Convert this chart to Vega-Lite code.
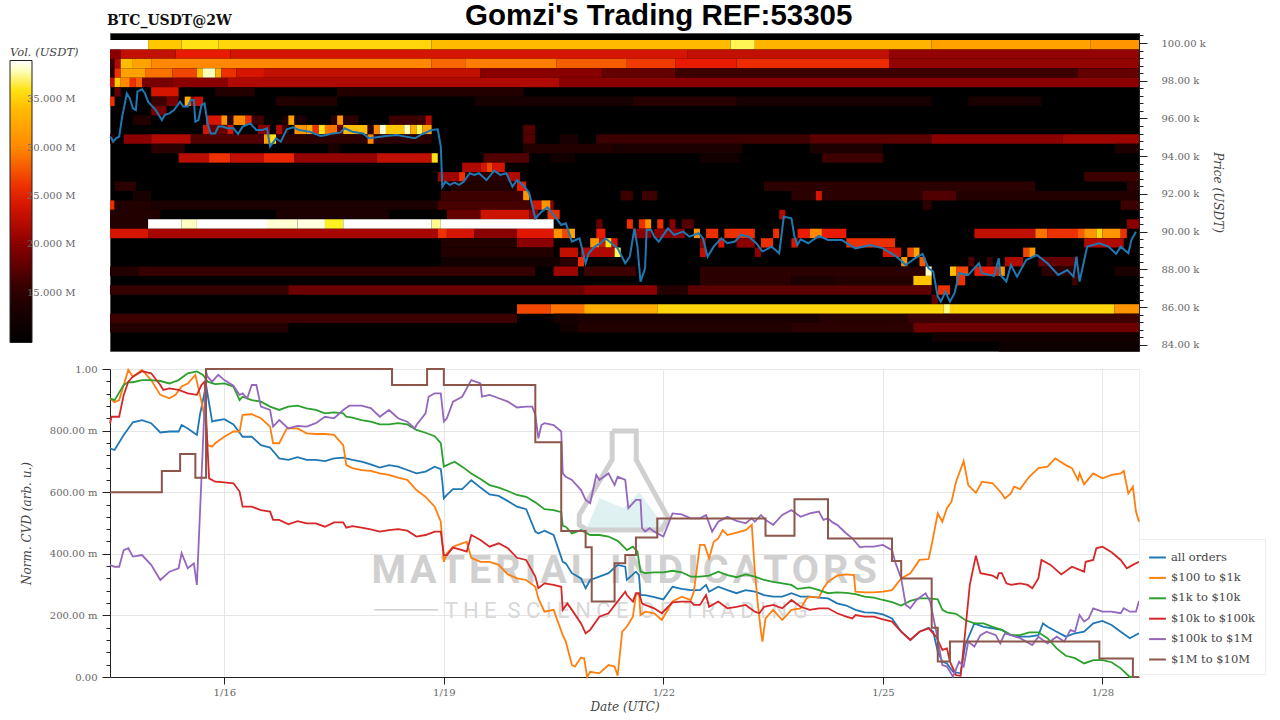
{"$schema":"https://vega.github.io/schema/vega-lite/v6.json","background":"white","padding":{"left":9,"top":1,"right":5,"bottom":5},"title":{"text":"Gomzi's Trading REF:53305","font":"Liberation Sans","fontWeight":"bold","fontSize":29.5,"color":"black","anchor":"middle","dx":21,"offset":-18},"config":{"font":"DejaVu Serif","axis":{"labelFont":"DejaVu Serif","labelColor":"#666","labelFontSize":10,"titleFont":"DejaVu Serif","titleFontStyle":"italic","titleFontWeight":"normal","titleColor":"#444","titleFontSize":12,"tickColor":"#222","domainColor":"#222","labelFlush":false,"labelOverlap":false,"labelBound":false}},"spacing":18,"bounds":"flush","datasets":{"heat":[
{"a":"2026-01-14T10:30Z","b":"2026-01-14T23:00Z","y":99660,"y2":100160,"v":39},{"a":"2026-01-14T23:00Z","b":"2026-01-15T10:00Z","y":99660,"y2":100160,"v":35},{"a":"2026-01-15T10:00Z","b":"2026-01-15T22:00Z","y":99660,"y2":100160,"v":36},{"a":"2026-01-15T22:00Z","b":"2026-01-18T20:00Z","y":99660,"y2":100160,"v":35.5},{"a":"2026-01-18T20:00Z","b":"2026-01-22T22:00Z","y":99660,"y2":100160,"v":34},{"a":"2026-01-22T22:00Z","b":"2026-01-23T06:00Z","y":99660,"y2":100160,"v":37},{"a":"2026-01-23T06:00Z","b":"2026-01-25T16:00Z","y":99660,"y2":100160,"v":33.5},{"a":"2026-01-25T16:00Z","b":"2026-01-27T20:00Z","y":99660,"y2":100160,"v":32},{"a":"2026-01-27T20:00Z","b":"2026-01-28T12:00Z","y":99660,"y2":100160,"v":31},
{"a":"2026-01-14T10:30Z","b":"2026-01-14T14:00Z","y":99160,"y2":99660,"v":20},{"a":"2026-01-14T14:00Z","b":"2026-01-15T08:00Z","y":99160,"y2":99660,"v":23},{"a":"2026-01-15T08:00Z","b":"2026-01-16T02:00Z","y":99160,"y2":99660,"v":25},{"a":"2026-01-16T02:00Z","b":"2026-01-22T08:00Z","y":99160,"y2":99660,"v":24},{"a":"2026-01-22T08:00Z","b":"2026-01-25T02:00Z","y":99160,"y2":99660,"v":23},{"a":"2026-01-25T02:00Z","b":"2026-01-28T12:00Z","y":99160,"y2":99660,"v":20.5},
{"a":"2026-01-14T10:30Z","b":"2026-01-14T12:00Z","y":98660,"y2":99160,"v":16},{"a":"2026-01-14T12:00Z","b":"2026-01-14T14:00Z","y":98660,"y2":99160,"v":22},{"a":"2026-01-14T14:00Z","b":"2026-01-14T18:00Z","y":98660,"y2":99160,"v":34},{"a":"2026-01-14T18:00Z","b":"2026-01-15T00:00Z","y":98660,"y2":99160,"v":32},{"a":"2026-01-15T00:00Z","b":"2026-01-18T20:00Z","y":98660,"y2":99160,"v":30},{"a":"2026-01-18T20:00Z","b":"2026-01-19T07:00Z","y":98660,"y2":99160,"v":28.5},{"a":"2026-01-19T07:00Z","b":"2026-01-20T13:00Z","y":98660,"y2":99160,"v":29.5},{"a":"2026-01-20T13:00Z","b":"2026-01-21T12:00Z","y":98660,"y2":99160,"v":28},{"a":"2026-01-21T12:00Z","b":"2026-01-22T04:00Z","y":98660,"y2":99160,"v":26.5},{"a":"2026-01-22T04:00Z","b":"2026-01-23T00:00Z","y":98660,"y2":99160,"v":25},{"a":"2026-01-23T00:00Z","b":"2026-01-25T02:00Z","y":98660,"y2":99160,"v":25.8},{"a":"2026-01-25T02:00Z","b":"2026-01-28T12:00Z","y":98660,"y2":99160,"v":20.5},
{"a":"2026-01-14T10:30Z","b":"2026-01-14T12:00Z","y":98160,"y2":98660,"v":15},{"a":"2026-01-14T12:00Z","b":"2026-01-14T14:00Z","y":98160,"y2":98660,"v":26},{"a":"2026-01-14T14:00Z","b":"2026-01-14T22:00Z","y":98160,"y2":98660,"v":32},{"a":"2026-01-14T22:00Z","b":"2026-01-15T07:00Z","y":98160,"y2":98660,"v":29},{"a":"2026-01-15T07:00Z","b":"2026-01-15T15:00Z","y":98160,"y2":98660,"v":27},{"a":"2026-01-15T15:00Z","b":"2026-01-15T17:00Z","y":98160,"y2":98660,"v":34},{"a":"2026-01-15T17:00Z","b":"2026-01-15T21:00Z","y":98160,"y2":98660,"v":38},{"a":"2026-01-15T21:00Z","b":"2026-01-15T23:00Z","y":98160,"y2":98660,"v":33},{"a":"2026-01-15T23:00Z","b":"2026-01-16T04:00Z","y":98160,"y2":98660,"v":26},{"a":"2026-01-16T04:00Z","b":"2026-01-16T13:00Z","y":98160,"y2":98660,"v":24},{"a":"2026-01-16T13:00Z","b":"2026-01-19T12:00Z","y":98160,"y2":98660,"v":23},{"a":"2026-01-19T12:00Z","b":"2026-01-21T04:00Z","y":98160,"y2":98660,"v":20},{"a":"2026-01-21T04:00Z","b":"2026-01-22T04:00Z","y":98160,"y2":98660,"v":18},{"a":"2026-01-22T04:00Z","b":"2026-01-27T16:00Z","y":98160,"y2":98660,"v":16},{"a":"2026-01-27T16:00Z","b":"2026-01-28T12:00Z","y":98160,"y2":98660,"v":18},
{"a":"2026-01-14T10:30Z","b":"2026-01-14T12:00Z","y":97660,"y2":98160,"v":23},{"a":"2026-01-14T12:00Z","b":"2026-01-14T14:00Z","y":97660,"y2":98160,"v":35},{"a":"2026-01-14T14:00Z","b":"2026-01-14T17:00Z","y":97660,"y2":98160,"v":30},{"a":"2026-01-14T17:00Z","b":"2026-01-14T19:00Z","y":97660,"y2":98160,"v":26},{"a":"2026-01-14T19:00Z","b":"2026-01-14T21:00Z","y":97660,"y2":98160,"v":28},{"a":"2026-01-14T21:00Z","b":"2026-01-15T07:00Z","y":97660,"y2":98160,"v":19},{"a":"2026-01-15T07:00Z","b":"2026-01-16T01:00Z","y":97660,"y2":98160,"v":20},{"a":"2026-01-16T01:00Z","b":"2026-01-20T14:00Z","y":97660,"y2":98160,"v":22},{"a":"2026-01-20T14:00Z","b":"2026-01-28T12:00Z","y":97660,"y2":98160,"v":20},
{"a":"2026-01-14T12:00Z","b":"2026-01-14T14:00Z","y":97160,"y2":97660,"v":18},{"a":"2026-01-15T00:00Z","b":"2026-01-15T09:00Z","y":97160,"y2":97660,"v":24},{"a":"2026-01-15T21:00Z","b":"2026-01-16T10:00Z","y":97160,"y2":97660,"v":14},{"a":"2026-01-17T13:00Z","b":"2026-01-20T02:00Z","y":97160,"y2":97660,"v":14},
{"a":"2026-01-14T10:30Z","b":"2026-01-14T12:00Z","y":96660,"y2":97160,"v":26},{"a":"2026-01-15T00:00Z","b":"2026-01-15T05:00Z","y":96660,"y2":97160,"v":16},{"a":"2026-01-15T05:00Z","b":"2026-01-15T09:00Z","y":96660,"y2":97160,"v":19},{"a":"2026-01-15T11:00Z","b":"2026-01-15T13:00Z","y":96660,"y2":97160,"v":33},{"a":"2026-01-15T13:00Z","b":"2026-01-15T14:00Z","y":96660,"y2":97160,"v":21},{"a":"2026-01-15T14:00Z","b":"2026-01-15T17:00Z","y":96660,"y2":97160,"v":23},{"a":"2026-01-16T17:00Z","b":"2026-01-17T13:00Z","y":96660,"y2":97160,"v":14},{"a":"2026-01-19T10:00Z","b":"2026-01-21T14:00Z","y":96660,"y2":97160,"v":12.5},{"a":"2026-01-21T14:00Z","b":"2026-01-23T00:00Z","y":96660,"y2":97160,"v":14.5},{"a":"2026-01-23T00:00Z","b":"2026-01-25T16:00Z","y":96660,"y2":97160,"v":12.5},{"a":"2026-01-26T04:00Z","b":"2026-01-27T04:00Z","y":96660,"y2":97160,"v":13},
{"a":"2026-01-15T00:00Z","b":"2026-01-15T05:00Z","y":96160,"y2":96660,"v":19},
{"a":"2026-01-14T18:00Z","b":"2026-01-15T00:00Z","y":95660,"y2":96160,"v":14},{"a":"2026-01-15T18:00Z","b":"2026-01-15T23:00Z","y":95660,"y2":96160,"v":24},{"a":"2026-01-15T23:00Z","b":"2026-01-16T01:00Z","y":95660,"y2":96160,"v":31},{"a":"2026-01-16T01:00Z","b":"2026-01-16T03:00Z","y":95660,"y2":96160,"v":15},{"a":"2026-01-16T03:00Z","b":"2026-01-16T07:00Z","y":95660,"y2":96160,"v":30},{"a":"2026-01-16T07:00Z","b":"2026-01-16T09:00Z","y":95660,"y2":96160,"v":26},{"a":"2026-01-16T09:00Z","b":"2026-01-16T13:00Z","y":95660,"y2":96160,"v":16},{"a":"2026-01-16T19:00Z","b":"2026-01-16T21:00Z","y":95660,"y2":96160,"v":14},{"a":"2026-01-16T21:00Z","b":"2026-01-16T23:00Z","y":95660,"y2":96160,"v":32},{"a":"2026-01-16T23:00Z","b":"2026-01-17T03:00Z","y":95660,"y2":96160,"v":13},{"a":"2026-01-17T11:00Z","b":"2026-01-17T13:00Z","y":95660,"y2":96160,"v":15},{"a":"2026-01-17T13:00Z","b":"2026-01-17T15:00Z","y":95660,"y2":96160,"v":31},{"a":"2026-01-17T15:00Z","b":"2026-01-17T20:00Z","y":95660,"y2":96160,"v":15},{"a":"2026-01-18T06:00Z","b":"2026-01-18T18:00Z","y":95660,"y2":96160,"v":16},{"a":"2026-01-18T18:00Z","b":"2026-01-18T20:00Z","y":95660,"y2":96160,"v":22},
{"a":"2026-01-15T17:00Z","b":"2026-01-15T19:00Z","y":95160,"y2":95660,"v":24},{"a":"2026-01-15T19:00Z","b":"2026-01-16T01:00Z","y":95160,"y2":95660,"v":18},{"a":"2026-01-16T01:00Z","b":"2026-01-16T03:00Z","y":95160,"y2":95660,"v":24},{"a":"2026-01-16T11:00Z","b":"2026-01-16T15:00Z","y":95160,"y2":95660,"v":20},{"a":"2026-01-16T17:00Z","b":"2026-01-16T19:00Z","y":95160,"y2":95660,"v":22},{"a":"2026-01-16T19:00Z","b":"2026-01-16T21:00Z","y":95160,"y2":95660,"v":16},{"a":"2026-01-16T23:00Z","b":"2026-01-17T03:00Z","y":95160,"y2":95660,"v":31},{"a":"2026-01-17T03:00Z","b":"2026-01-17T05:00Z","y":95160,"y2":95660,"v":33},{"a":"2026-01-17T05:00Z","b":"2026-01-17T07:00Z","y":95160,"y2":95660,"v":26},{"a":"2026-01-17T07:00Z","b":"2026-01-17T09:00Z","y":95160,"y2":95660,"v":36},{"a":"2026-01-17T09:00Z","b":"2026-01-17T13:00Z","y":95160,"y2":95660,"v":29},{"a":"2026-01-17T13:00Z","b":"2026-01-17T15:00Z","y":95160,"y2":95660,"v":18},{"a":"2026-01-17T15:00Z","b":"2026-01-17T23:00Z","y":95160,"y2":95660,"v":34},{"a":"2026-01-17T23:00Z","b":"2026-01-18T01:00Z","y":95160,"y2":95660,"v":15},{"a":"2026-01-18T01:00Z","b":"2026-01-18T03:00Z","y":95160,"y2":95660,"v":30},{"a":"2026-01-18T03:00Z","b":"2026-01-18T05:00Z","y":95160,"y2":95660,"v":38.5},{"a":"2026-01-18T05:00Z","b":"2026-01-18T11:00Z","y":95160,"y2":95660,"v":35},{"a":"2026-01-18T11:00Z","b":"2026-01-18T13:00Z","y":95160,"y2":95660,"v":38},{"a":"2026-01-18T13:00Z","b":"2026-01-18T15:00Z","y":95160,"y2":95660,"v":33},{"a":"2026-01-18T15:00Z","b":"2026-01-18T17:00Z","y":95160,"y2":95660,"v":37},{"a":"2026-01-18T17:00Z","b":"2026-01-18T20:00Z","y":95160,"y2":95660,"v":32},{"a":"2026-01-20T02:00Z","b":"2026-01-20T06:00Z","y":95160,"y2":95660,"v":17},
{"a":"2026-01-14T10:30Z","b":"2026-01-14T12:00Z","y":94660,"y2":95160,"v":15},{"a":"2026-01-14T15:00Z","b":"2026-01-15T00:00Z","y":94660,"y2":95160,"v":20},{"a":"2026-01-15T00:00Z","b":"2026-01-15T13:00Z","y":94660,"y2":95160,"v":22},{"a":"2026-01-15T13:00Z","b":"2026-01-16T13:00Z","y":94660,"y2":95160,"v":17},{"a":"2026-01-16T13:00Z","b":"2026-01-16T15:00Z","y":94660,"y2":95160,"v":32},{"a":"2026-01-16T15:00Z","b":"2026-01-16T17:00Z","y":94660,"y2":95160,"v":36},{"a":"2026-01-16T17:00Z","b":"2026-01-17T23:00Z","y":94660,"y2":95160,"v":15},{"a":"2026-01-17T23:00Z","b":"2026-01-18T01:00Z","y":94660,"y2":95160,"v":30},{"a":"2026-01-18T01:00Z","b":"2026-01-18T20:00Z","y":94660,"y2":95160,"v":15},{"a":"2026-01-20T02:00Z","b":"2026-01-20T06:00Z","y":94660,"y2":95160,"v":17},{"a":"2026-01-20T14:00Z","b":"2026-01-20T20:00Z","y":94660,"y2":95160,"v":13},{"a":"2026-01-21T02:00Z","b":"2026-01-24T00:00Z","y":94660,"y2":95160,"v":16},{"a":"2026-01-24T00:00Z","b":"2026-01-25T16:00Z","y":94660,"y2":95160,"v":17.5},{"a":"2026-01-25T16:00Z","b":"2026-01-27T11:00Z","y":94660,"y2":95160,"v":20},{"a":"2026-01-27T11:00Z","b":"2026-01-28T12:00Z","y":94660,"y2":95160,"v":21},
{"a":"2026-01-15T00:00Z","b":"2026-01-15T11:00Z","y":94160,"y2":94660,"v":15},{"a":"2026-01-17T10:00Z","b":"2026-01-17T14:00Z","y":94160,"y2":94660,"v":13},{"a":"2026-01-20T02:00Z","b":"2026-01-21T08:00Z","y":94160,"y2":94660,"v":14},{"a":"2026-01-21T08:00Z","b":"2026-01-23T02:00Z","y":94160,"y2":94660,"v":13},{"a":"2026-01-24T00:00Z","b":"2026-01-25T00:00Z","y":94160,"y2":94660,"v":13},{"a":"2026-01-28T04:00Z","b":"2026-01-28T12:00Z","y":94160,"y2":94660,"v":13},
{"a":"2026-01-15T09:00Z","b":"2026-01-15T19:00Z","y":93660,"y2":94160,"v":22.5},{"a":"2026-01-15T19:00Z","b":"2026-01-16T02:00Z","y":93660,"y2":94160,"v":26},{"a":"2026-01-16T02:00Z","b":"2026-01-16T13:00Z","y":93660,"y2":94160,"v":23},{"a":"2026-01-16T13:00Z","b":"2026-01-16T23:00Z","y":93660,"y2":94160,"v":25.5},{"a":"2026-01-16T23:00Z","b":"2026-01-18T02:00Z","y":93660,"y2":94160,"v":20.5},{"a":"2026-01-18T02:00Z","b":"2026-01-18T20:00Z","y":93660,"y2":94160,"v":23},{"a":"2026-01-18T20:00Z","b":"2026-01-18T22:00Z","y":93660,"y2":94160,"v":36},{"a":"2026-01-19T13:00Z","b":"2026-01-20T04:00Z","y":93660,"y2":94160,"v":17},{"a":"2026-01-20T11:00Z","b":"2026-01-20T19:00Z","y":93660,"y2":94160,"v":12},{"a":"2026-01-22T12:00Z","b":"2026-01-23T01:00Z","y":93660,"y2":94160,"v":12},{"a":"2026-01-24T04:00Z","b":"2026-01-25T00:00Z","y":93660,"y2":94160,"v":16},
{"a":"2026-01-19T06:00Z","b":"2026-01-19T12:00Z","y":93160,"y2":93660,"v":22},{"a":"2026-01-19T12:00Z","b":"2026-01-19T14:00Z","y":93160,"y2":93660,"v":24},{"a":"2026-01-19T14:00Z","b":"2026-01-19T16:00Z","y":93160,"y2":93660,"v":27},{"a":"2026-01-19T16:00Z","b":"2026-01-19T20:00Z","y":93160,"y2":93660,"v":24},
{"a":"2026-01-18T22:00Z","b":"2026-01-19T05:00Z","y":92660,"y2":93160,"v":21},{"a":"2026-01-19T05:00Z","b":"2026-01-19T07:00Z","y":92660,"y2":93160,"v":26},{"a":"2026-01-19T07:00Z","b":"2026-01-19T21:00Z","y":92660,"y2":93160,"v":15},{"a":"2026-01-19T21:00Z","b":"2026-01-20T01:00Z","y":92660,"y2":93160,"v":22},{"a":"2026-01-27T18:00Z","b":"2026-01-28T12:00Z","y":92660,"y2":93160,"v":16},
{"a":"2026-01-14T12:00Z","b":"2026-01-14T19:00Z","y":92160,"y2":92660,"v":15},{"a":"2026-01-19T02:00Z","b":"2026-01-20T00:00Z","y":92160,"y2":92660,"v":14},{"a":"2026-01-20T00:00Z","b":"2026-01-20T03:00Z","y":92160,"y2":92660,"v":25},{"a":"2026-01-23T09:00Z","b":"2026-01-27T02:00Z","y":92160,"y2":92660,"v":15},{"a":"2026-01-28T08:00Z","b":"2026-01-28T12:00Z","y":92160,"y2":92660,"v":15},
{"a":"2026-01-14T18:00Z","b":"2026-01-15T00:00Z","y":91660,"y2":92160,"v":12.5},{"a":"2026-01-18T23:00Z","b":"2026-01-20T02:00Z","y":91660,"y2":92160,"v":16},{"a":"2026-01-20T02:00Z","b":"2026-01-20T04:00Z","y":91660,"y2":92160,"v":31},{"a":"2026-01-21T10:00Z","b":"2026-01-21T14:00Z","y":91660,"y2":92160,"v":16},{"a":"2026-01-21T17:00Z","b":"2026-01-21T22:00Z","y":91660,"y2":92160,"v":16},{"a":"2026-01-23T18:00Z","b":"2026-01-24T02:00Z","y":91660,"y2":92160,"v":15},{"a":"2026-01-24T02:00Z","b":"2026-01-24T04:00Z","y":91660,"y2":92160,"v":24},{"a":"2026-01-24T04:00Z","b":"2026-01-25T13:00Z","y":91660,"y2":92160,"v":15},{"a":"2026-01-25T13:00Z","b":"2026-01-26T00:00Z","y":91660,"y2":92160,"v":17},{"a":"2026-01-26T00:00Z","b":"2026-01-28T12:00Z","y":91660,"y2":92160,"v":14},
{"a":"2026-01-14T10:30Z","b":"2026-01-14T12:00Z","y":91160,"y2":91660,"v":26},{"a":"2026-01-14T12:00Z","b":"2026-01-15T00:00Z","y":91160,"y2":91660,"v":14},{"a":"2026-01-15T00:00Z","b":"2026-01-18T22:00Z","y":91160,"y2":91660,"v":13},{"a":"2026-01-18T22:00Z","b":"2026-01-20T05:00Z","y":91160,"y2":91660,"v":16.5},{"a":"2026-01-20T05:00Z","b":"2026-01-20T08:00Z","y":91160,"y2":91660,"v":24},{"a":"2026-01-20T08:00Z","b":"2026-01-20T11:00Z","y":91160,"y2":91660,"v":31},{"a":"2026-01-20T11:00Z","b":"2026-01-20T12:00Z","y":91160,"y2":91660,"v":20},{"a":"2026-01-25T13:00Z","b":"2026-01-25T16:00Z","y":91160,"y2":91660,"v":15},{"a":"2026-01-28T06:00Z","b":"2026-01-28T12:00Z","y":91160,"y2":91660,"v":16},
{"a":"2026-01-14T10:30Z","b":"2026-01-15T03:00Z","y":90660,"y2":91160,"v":14},{"a":"2026-01-16T17:00Z","b":"2026-01-18T06:00Z","y":90660,"y2":91160,"v":13},{"a":"2026-01-19T01:00Z","b":"2026-01-19T12:00Z","y":90660,"y2":91160,"v":18},{"a":"2026-01-19T12:00Z","b":"2026-01-20T04:00Z","y":90660,"y2":91160,"v":23.5},{"a":"2026-01-20T04:00Z","b":"2026-01-20T07:00Z","y":90660,"y2":91160,"v":20},{"a":"2026-01-20T10:00Z","b":"2026-01-20T14:00Z","y":90660,"y2":91160,"v":26},{"a":"2026-01-23T14:00Z","b":"2026-01-23T16:00Z","y":90660,"y2":91160,"v":22},
{"a":"2026-01-14T10:30Z","b":"2026-01-14T23:00Z","y":90160,"y2":90660,"v":14},{"a":"2026-01-14T23:00Z","b":"2026-01-15T10:00Z","y":90160,"y2":90660,"v":39},{"a":"2026-01-15T10:00Z","b":"2026-01-15T15:00Z","y":90160,"y2":90660,"v":38},{"a":"2026-01-15T15:00Z","b":"2026-01-16T14:00Z","y":90160,"y2":90660,"v":39},{"a":"2026-01-16T14:00Z","b":"2026-01-17T00:00Z","y":90160,"y2":90660,"v":38.3},{"a":"2026-01-17T00:00Z","b":"2026-01-17T09:00Z","y":90160,"y2":90660,"v":38.5},{"a":"2026-01-17T09:00Z","b":"2026-01-17T15:00Z","y":90160,"y2":90660,"v":36.5},{"a":"2026-01-17T15:00Z","b":"2026-01-18T20:00Z","y":90160,"y2":90660,"v":39},{"a":"2026-01-18T20:00Z","b":"2026-01-18T23:00Z","y":90160,"y2":90660,"v":37.5},{"a":"2026-01-18T23:00Z","b":"2026-01-20T12:00Z","y":90160,"y2":90660,"v":39},{"a":"2026-01-21T02:00Z","b":"2026-01-21T04:00Z","y":90160,"y2":90660,"v":18},{"a":"2026-01-21T12:00Z","b":"2026-01-21T14:00Z","y":90160,"y2":90660,"v":26},{"a":"2026-01-21T16:00Z","b":"2026-01-21T18:00Z","y":90160,"y2":90660,"v":26},{"a":"2026-01-21T18:00Z","b":"2026-01-21T20:00Z","y":90160,"y2":90660,"v":30.5},{"a":"2026-01-21T22:00Z","b":"2026-01-22T00:00Z","y":90160,"y2":90660,"v":26},{"a":"2026-01-22T02:00Z","b":"2026-01-22T04:00Z","y":90160,"y2":90660,"v":20},{"a":"2026-01-22T06:00Z","b":"2026-01-22T10:00Z","y":90160,"y2":90660,"v":17},{"a":"2026-01-28T08:00Z","b":"2026-01-28T12:00Z","y":90160,"y2":90660,"v":20},
{"a":"2026-01-14T10:30Z","b":"2026-01-14T23:00Z","y":89660,"y2":90160,"v":24},{"a":"2026-01-14T23:00Z","b":"2026-01-18T22:00Z","y":89660,"y2":90160,"v":21.5},{"a":"2026-01-18T22:00Z","b":"2026-01-19T01:00Z","y":89660,"y2":90160,"v":26},{"a":"2026-01-19T01:00Z","b":"2026-01-19T10:00Z","y":89660,"y2":90160,"v":24},{"a":"2026-01-19T10:00Z","b":"2026-01-20T00:00Z","y":89660,"y2":90160,"v":20},{"a":"2026-01-20T00:00Z","b":"2026-01-20T12:00Z","y":89660,"y2":90160,"v":24.5},{"a":"2026-01-20T12:00Z","b":"2026-01-20T15:00Z","y":89660,"y2":90160,"v":30.5},{"a":"2026-01-20T15:00Z","b":"2026-01-20T17:00Z","y":89660,"y2":90160,"v":27},{"a":"2026-01-20T17:00Z","b":"2026-01-20T19:00Z","y":89660,"y2":90160,"v":32},{"a":"2026-01-21T02:00Z","b":"2026-01-21T05:00Z","y":89660,"y2":90160,"v":25},{"a":"2026-01-21T14:00Z","b":"2026-01-21T20:00Z","y":89660,"y2":90160,"v":20},{"a":"2026-01-21T21:00Z","b":"2026-01-22T07:00Z","y":89660,"y2":90160,"v":20},{"a":"2026-01-22T10:00Z","b":"2026-01-22T12:00Z","y":89660,"y2":90160,"v":31},{"a":"2026-01-22T14:00Z","b":"2026-01-22T18:00Z","y":89660,"y2":90160,"v":26},{"a":"2026-01-22T20:00Z","b":"2026-01-23T06:00Z","y":89660,"y2":90160,"v":26},{"a":"2026-01-23T12:00Z","b":"2026-01-23T14:00Z","y":89660,"y2":90160,"v":26},{"a":"2026-01-23T20:00Z","b":"2026-01-24T00:00Z","y":89660,"y2":90160,"v":25},{"a":"2026-01-24T00:00Z","b":"2026-01-24T04:00Z","y":89660,"y2":90160,"v":30},{"a":"2026-01-24T04:00Z","b":"2026-01-24T12:00Z","y":89660,"y2":90160,"v":25},{"a":"2026-01-26T06:00Z","b":"2026-01-27T02:00Z","y":89660,"y2":90160,"v":23},{"a":"2026-01-27T02:00Z","b":"2026-01-27T06:00Z","y":89660,"y2":90160,"v":29},{"a":"2026-01-27T06:00Z","b":"2026-01-27T16:00Z","y":89660,"y2":90160,"v":26},{"a":"2026-01-27T16:00Z","b":"2026-01-27T18:00Z","y":89660,"y2":90160,"v":28},{"a":"2026-01-27T18:00Z","b":"2026-01-27T22:00Z","y":89660,"y2":90160,"v":31},{"a":"2026-01-27T22:00Z","b":"2026-01-28T00:00Z","y":89660,"y2":90160,"v":35.5},{"a":"2026-01-28T00:00Z","b":"2026-01-28T06:00Z","y":89660,"y2":90160,"v":31},{"a":"2026-01-28T06:00Z","b":"2026-01-28T08:00Z","y":89660,"y2":90160,"v":26},
{"a":"2026-01-18T23:00Z","b":"2026-01-20T00:00Z","y":89160,"y2":89660,"v":14},{"a":"2026-01-20T00:00Z","b":"2026-01-20T12:00Z","y":89160,"y2":89660,"v":20},{"a":"2026-01-21T00:00Z","b":"2026-01-21T03:00Z","y":89160,"y2":89660,"v":31},{"a":"2026-01-21T03:00Z","b":"2026-01-21T05:00Z","y":89160,"y2":89660,"v":24},{"a":"2026-01-21T05:00Z","b":"2026-01-21T07:00Z","y":89160,"y2":89660,"v":36},{"a":"2026-01-21T07:00Z","b":"2026-01-21T09:00Z","y":89160,"y2":89660,"v":24},{"a":"2026-01-22T12:00Z","b":"2026-01-22T14:00Z","y":89160,"y2":89660,"v":20},{"a":"2026-01-22T18:00Z","b":"2026-01-22T20:00Z","y":89160,"y2":89660,"v":24},{"a":"2026-01-23T00:00Z","b":"2026-01-23T06:00Z","y":89160,"y2":89660,"v":20},{"a":"2026-01-23T08:00Z","b":"2026-01-23T12:00Z","y":89160,"y2":89660,"v":26},{"a":"2026-01-23T18:00Z","b":"2026-01-23T20:00Z","y":89160,"y2":89660,"v":24},{"a":"2026-01-24T12:00Z","b":"2026-01-25T04:00Z","y":89160,"y2":89660,"v":26},{"a":"2026-01-27T18:00Z","b":"2026-01-28T07:00Z","y":89160,"y2":89660,"v":22},
{"a":"2026-01-18T23:00Z","b":"2026-01-20T12:00Z","y":88660,"y2":89160,"v":14},{"a":"2026-01-20T14:00Z","b":"2026-01-20T20:00Z","y":88660,"y2":89160,"v":23},{"a":"2026-01-20T21:00Z","b":"2026-01-21T08:00Z","y":88660,"y2":89160,"v":22},{"a":"2026-01-21T08:00Z","b":"2026-01-21T10:00Z","y":88660,"y2":89160,"v":37},{"a":"2026-01-22T12:00Z","b":"2026-01-22T14:00Z","y":88660,"y2":89160,"v":23},{"a":"2026-01-23T06:00Z","b":"2026-01-23T08:00Z","y":88660,"y2":89160,"v":20},{"a":"2026-01-25T00:00Z","b":"2026-01-25T06:00Z","y":88660,"y2":89160,"v":24},{"a":"2026-01-25T08:00Z","b":"2026-01-25T10:00Z","y":88660,"y2":89160,"v":27},{"a":"2026-01-25T10:00Z","b":"2026-01-25T12:00Z","y":88660,"y2":89160,"v":32},{"a":"2026-01-26T22:00Z","b":"2026-01-27T00:00Z","y":88660,"y2":89160,"v":27},{"a":"2026-01-27T00:00Z","b":"2026-01-27T02:00Z","y":88660,"y2":89160,"v":31},
{"a":"2026-01-18T23:00Z","b":"2026-01-20T14:00Z","y":88160,"y2":88660,"v":12},{"a":"2026-01-20T14:00Z","b":"2026-01-20T20:00Z","y":88160,"y2":88660,"v":15},{"a":"2026-01-20T20:00Z","b":"2026-01-20T22:00Z","y":88160,"y2":88660,"v":26},{"a":"2026-01-25T06:00Z","b":"2026-01-25T08:00Z","y":88160,"y2":88660,"v":31},{"a":"2026-01-25T12:00Z","b":"2026-01-25T14:00Z","y":88160,"y2":88660,"v":28},{"a":"2026-01-26T04:00Z","b":"2026-01-26T06:00Z","y":88160,"y2":88660,"v":17},{"a":"2026-01-26T10:00Z","b":"2026-01-26T12:00Z","y":88160,"y2":88660,"v":16},{"a":"2026-01-26T16:00Z","b":"2026-01-26T22:00Z","y":88160,"y2":88660,"v":22},{"a":"2026-01-27T03:00Z","b":"2026-01-27T16:00Z","y":88160,"y2":88660,"v":18},
{"a":"2026-01-14T10:30Z","b":"2026-01-14T20:00Z","y":87660,"y2":88160,"v":14},{"a":"2026-01-14T20:00Z","b":"2026-01-20T06:00Z","y":87660,"y2":88160,"v":15.5},{"a":"2026-01-20T12:00Z","b":"2026-01-20T20:00Z","y":87660,"y2":88160,"v":21},{"a":"2026-01-20T22:00Z","b":"2026-01-21T15:00Z","y":87660,"y2":88160,"v":16},{"a":"2026-01-22T12:00Z","b":"2026-01-25T14:00Z","y":87660,"y2":88160,"v":15},{"a":"2026-01-25T14:00Z","b":"2026-01-25T16:00Z","y":87660,"y2":88160,"v":38},{"a":"2026-01-25T22:00Z","b":"2026-01-26T00:00Z","y":87660,"y2":88160,"v":34},{"a":"2026-01-26T00:00Z","b":"2026-01-26T04:00Z","y":87660,"y2":88160,"v":27},{"a":"2026-01-26T06:00Z","b":"2026-01-26T14:00Z","y":87660,"y2":88160,"v":25},{"a":"2026-01-26T14:00Z","b":"2026-01-26T16:00Z","y":87660,"y2":88160,"v":31},{"a":"2026-01-27T04:00Z","b":"2026-01-27T16:00Z","y":87660,"y2":88160,"v":15},{"a":"2026-01-28T04:00Z","b":"2026-01-28T12:00Z","y":87660,"y2":88160,"v":13},
{"a":"2026-01-22T12:00Z","b":"2026-01-23T18:00Z","y":87160,"y2":87660,"v":15},{"a":"2026-01-23T18:00Z","b":"2026-01-24T08:00Z","y":87160,"y2":87660,"v":13},{"a":"2026-01-24T08:00Z","b":"2026-01-25T10:00Z","y":87160,"y2":87660,"v":14},{"a":"2026-01-25T10:00Z","b":"2026-01-25T16:00Z","y":87160,"y2":87660,"v":34.5},{"a":"2026-01-26T00:00Z","b":"2026-01-26T03:00Z","y":87160,"y2":87660,"v":26},{"a":"2026-01-27T14:00Z","b":"2026-01-27T16:00Z","y":87160,"y2":87660,"v":16},
{"a":"2026-01-14T10:30Z","b":"2026-01-16T21:00Z","y":86660,"y2":87160,"v":15.5},{"a":"2026-01-16T21:00Z","b":"2026-01-20T22:00Z","y":86660,"y2":87160,"v":18.5},{"a":"2026-01-20T22:00Z","b":"2026-01-21T22:00Z","y":86660,"y2":87160,"v":20},{"a":"2026-01-21T22:00Z","b":"2026-01-22T08:00Z","y":86660,"y2":87160,"v":14},{"a":"2026-01-22T08:00Z","b":"2026-01-25T16:00Z","y":86660,"y2":87160,"v":17.5},{"a":"2026-01-25T18:00Z","b":"2026-01-25T22:00Z","y":86660,"y2":87160,"v":26},
{"a":"2026-01-25T16:00Z","b":"2026-01-25T18:00Z","y":86160,"y2":86660,"v":18},
{"a":"2026-01-20T00:00Z","b":"2026-01-20T11:00Z","y":85660,"y2":86160,"v":27},{"a":"2026-01-20T11:00Z","b":"2026-01-20T22:00Z","y":85660,"y2":86160,"v":29},{"a":"2026-01-20T22:00Z","b":"2026-01-21T22:00Z","y":85660,"y2":86160,"v":33},{"a":"2026-01-21T22:00Z","b":"2026-01-25T20:00Z","y":85660,"y2":86160,"v":35.5},{"a":"2026-01-25T20:00Z","b":"2026-01-25T22:00Z","y":85660,"y2":86160,"v":37.5},{"a":"2026-01-25T22:00Z","b":"2026-01-28T04:00Z","y":85660,"y2":86160,"v":35.5},{"a":"2026-01-28T04:00Z","b":"2026-01-28T12:00Z","y":85660,"y2":86160,"v":31},
{"a":"2026-01-14T10:30Z","b":"2026-01-20T00:00Z","y":85160,"y2":85660,"v":16},{"a":"2026-01-20T12:00Z","b":"2026-01-20T20:00Z","y":85160,"y2":85660,"v":12.5},{"a":"2026-01-20T20:00Z","b":"2026-01-24T03:00Z","y":85160,"y2":85660,"v":13},{"a":"2026-01-24T03:00Z","b":"2026-01-25T08:00Z","y":85160,"y2":85660,"v":14.5},{"a":"2026-01-25T08:00Z","b":"2026-01-28T12:00Z","y":85160,"y2":85660,"v":16},
{"a":"2026-01-14T10:30Z","b":"2026-01-16T21:00Z","y":84660,"y2":85160,"v":14},{"a":"2026-01-20T14:00Z","b":"2026-01-20T20:00Z","y":84660,"y2":85160,"v":12},{"a":"2026-01-20T20:00Z","b":"2026-01-23T18:00Z","y":84660,"y2":85160,"v":14},{"a":"2026-01-23T18:00Z","b":"2026-01-25T10:00Z","y":84660,"y2":85160,"v":15},{"a":"2026-01-25T10:00Z","b":"2026-01-28T12:00Z","y":84660,"y2":85160,"v":18.5},
{"a":"2026-01-25T16:00Z","b":"2026-01-28T12:00Z","y":84160,"y2":84660,"v":12},
{"a":"2026-01-26T14:00Z","b":"2026-01-28T12:00Z","y":83660,"y2":84160,"v":11.5}
],"price":[
{"t":"2026-01-14T10:30Z","p":95040},{"t":"2026-01-14T11:00Z","p":94950},{"t":"2026-01-14T11:30Z","p":94770},{"t":"2026-01-14T12:30Z","p":94950},{"t":"2026-01-14T13:30Z","p":95040},{"t":"2026-01-14T14:30Z","p":96100},{"t":"2026-01-14T15:30Z","p":96890},{"t":"2026-01-14T16:00Z","p":97330},{"t":"2026-01-14T17:00Z","p":97070},{"t":"2026-01-14T18:00Z","p":96540},{"t":"2026-01-14T19:00Z","p":96450},{"t":"2026-01-14T19:30Z","p":97420},{"t":"2026-01-14T21:00Z","p":97550},{"t":"2026-01-14T22:00Z","p":97330},{"t":"2026-01-14T23:00Z","p":96890},{"t":"2026-01-15T00:00Z","p":96710},{"t":"2026-01-15T01:30Z","p":96450},{"t":"2026-01-15T03:30Z","p":95920},{"t":"2026-01-15T04:30Z","p":96190},{"t":"2026-01-15T06:00Z","p":96270},{"t":"2026-01-15T07:30Z","p":96450},{"t":"2026-01-15T09:30Z","p":96890},{"t":"2026-01-15T10:30Z","p":96630},{"t":"2026-01-15T12:00Z","p":96630},{"t":"2026-01-15T13:00Z","p":96980},{"t":"2026-01-15T14:00Z","p":96980},{"t":"2026-01-15T14:30Z","p":95830},{"t":"2026-01-15T15:30Z","p":95920},{"t":"2026-01-15T16:30Z","p":96710},{"t":"2026-01-15T17:30Z","p":96800},{"t":"2026-01-15T18:30Z","p":95740},{"t":"2026-01-15T19:30Z","p":95210},{"t":"2026-01-15T21:00Z","p":95210},{"t":"2026-01-15T22:00Z","p":95570},{"t":"2026-01-15T23:30Z","p":95570},{"t":"2026-01-16T01:00Z","p":95480},{"t":"2026-01-16T03:00Z","p":95480},{"t":"2026-01-16T04:30Z","p":95180},{"t":"2026-01-16T06:00Z","p":95570},{"t":"2026-01-16T08:30Z","p":95740},{"t":"2026-01-16T10:30Z","p":95390},{"t":"2026-01-16T12:30Z","p":95390},{"t":"2026-01-16T14:00Z","p":95480},{"t":"2026-01-16T15:00Z","p":94510},{"t":"2026-01-16T17:00Z","p":94950},{"t":"2026-01-16T18:30Z","p":94770},{"t":"2026-01-16T20:30Z","p":95430},{"t":"2026-01-16T22:30Z","p":95530},{"t":"2026-01-17T00:30Z","p":95390},{"t":"2026-01-17T04:00Z","p":95300},{"t":"2026-01-17T07:30Z","p":95070},{"t":"2026-01-17T09:30Z","p":95130},{"t":"2026-01-17T11:30Z","p":95210},{"t":"2026-01-17T14:00Z","p":95250},{"t":"2026-01-17T15:30Z","p":95480},{"t":"2026-01-17T18:00Z","p":95300},{"t":"2026-01-17T21:30Z","p":95210},{"t":"2026-01-17T23:30Z","p":94950},{"t":"2026-01-18T02:00Z","p":95000},{"t":"2026-01-18T05:00Z","p":95070},{"t":"2026-01-18T08:30Z","p":95130},{"t":"2026-01-18T11:30Z","p":95040},{"t":"2026-01-18T14:30Z","p":94950},{"t":"2026-01-18T17:00Z","p":95180},{"t":"2026-01-18T20:00Z","p":95390},{"t":"2026-01-18T22:00Z","p":95430},{"t":"2026-01-18T23:00Z","p":94510},{"t":"2026-01-18T23:30Z","p":92390},{"t":"2026-01-19T00:30Z","p":92650},{"t":"2026-01-19T02:00Z","p":92480},{"t":"2026-01-19T03:30Z","p":92600},{"t":"2026-01-19T05:00Z","p":92480},{"t":"2026-01-19T06:30Z","p":92650},{"t":"2026-01-19T08:30Z","p":93100},{"t":"2026-01-19T10:00Z","p":93010},{"t":"2026-01-19T11:30Z","p":93100},{"t":"2026-01-19T14:00Z","p":92740},{"t":"2026-01-19T16:30Z","p":93240},{"t":"2026-01-19T18:30Z","p":93010},{"t":"2026-01-19T20:30Z","p":93100},{"t":"2026-01-19T22:30Z","p":92390},{"t":"2026-01-20T00:00Z","p":92740},{"t":"2026-01-20T02:30Z","p":92390},{"t":"2026-01-20T04:00Z","p":92040},{"t":"2026-01-20T06:00Z","p":90710},{"t":"2026-01-20T08:00Z","p":91060},{"t":"2026-01-20T10:00Z","p":91290},{"t":"2026-01-20T12:00Z","p":90890},{"t":"2026-01-20T14:30Z","p":90360},{"t":"2026-01-20T16:00Z","p":90450},{"t":"2026-01-20T18:00Z","p":89480},{"t":"2026-01-20T20:30Z","p":89650},{"t":"2026-01-20T22:30Z","p":88330},{"t":"2026-01-20T23:30Z","p":88860},{"t":"2026-01-21T01:30Z","p":89210},{"t":"2026-01-21T03:30Z","p":89390},{"t":"2026-01-21T05:00Z","p":89650},{"t":"2026-01-21T07:00Z","p":89390},{"t":"2026-01-21T09:00Z","p":89120},{"t":"2026-01-21T11:30Z","p":88330},{"t":"2026-01-21T13:00Z","p":88680},{"t":"2026-01-21T14:30Z","p":90180},{"t":"2026-01-21T15:30Z","p":89210},{"t":"2026-01-21T16:30Z","p":87360},{"t":"2026-01-21T18:00Z","p":88060},{"t":"2026-01-21T18:30Z","p":90090},{"t":"2026-01-21T20:00Z","p":90090},{"t":"2026-01-21T21:00Z","p":89740},{"t":"2026-01-21T22:30Z","p":89480},{"t":"2026-01-22T01:30Z","p":90180},{"t":"2026-01-22T03:30Z","p":89830},{"t":"2026-01-22T06:30Z","p":90010},{"t":"2026-01-22T08:30Z","p":89740},{"t":"2026-01-22T11:30Z","p":89920},{"t":"2026-01-22T13:00Z","p":89650},{"t":"2026-01-22T14:30Z","p":88680},{"t":"2026-01-22T16:30Z","p":89210},{"t":"2026-01-22T19:00Z","p":89650},{"t":"2026-01-22T21:00Z","p":89390},{"t":"2026-01-22T23:30Z","p":89480},{"t":"2026-01-23T01:30Z","p":89830},{"t":"2026-01-23T04:00Z","p":89740},{"t":"2026-01-23T06:30Z","p":89390},{"t":"2026-01-23T08:30Z","p":88950},{"t":"2026-01-23T11:30Z","p":89210},{"t":"2026-01-23T14:00Z","p":88860},{"t":"2026-01-23T15:30Z","p":90800},{"t":"2026-01-23T18:00Z","p":90710},{"t":"2026-01-23T19:00Z","p":89740},{"t":"2026-01-23T20:00Z","p":89300},{"t":"2026-01-23T21:00Z","p":89600},{"t":"2026-01-23T23:30Z","p":89390},{"t":"2026-01-24T03:00Z","p":89780},{"t":"2026-01-24T06:00Z","p":89560},{"t":"2026-01-24T10:30Z","p":89560},{"t":"2026-01-24T15:00Z","p":89120},{"t":"2026-01-24T20:00Z","p":89300},{"t":"2026-01-25T00:00Z","p":89120},{"t":"2026-01-25T04:30Z","p":88680},{"t":"2026-01-25T07:30Z","p":88240},{"t":"2026-01-25T10:30Z","p":88590},{"t":"2026-01-25T13:00Z","p":88820},{"t":"2026-01-25T15:00Z","p":88060},{"t":"2026-01-25T16:30Z","p":87890},{"t":"2026-01-25T18:00Z","p":86560},{"t":"2026-01-25T19:00Z","p":86300},{"t":"2026-01-25T20:30Z","p":86830},{"t":"2026-01-25T22:00Z","p":86300},{"t":"2026-01-25T23:30Z","p":86740},{"t":"2026-01-26T01:00Z","p":87800},{"t":"2026-01-26T04:00Z","p":87710},{"t":"2026-01-26T07:30Z","p":88330},{"t":"2026-01-26T08:30Z","p":87800},{"t":"2026-01-26T12:30Z","p":87660},{"t":"2026-01-26T14:00Z","p":88590},{"t":"2026-01-26T14:30Z","p":87710},{"t":"2026-01-26T16:30Z","p":87360},{"t":"2026-01-26T18:00Z","p":88240},{"t":"2026-01-26T20:00Z","p":87620},{"t":"2026-01-26T23:00Z","p":88500},{"t":"2026-01-27T02:30Z","p":88770},{"t":"2026-01-27T06:00Z","p":88330},{"t":"2026-01-27T09:30Z","p":87710},{"t":"2026-01-27T12:30Z","p":87970},{"t":"2026-01-27T14:30Z","p":87620},{"t":"2026-01-27T15:30Z","p":88680},{"t":"2026-01-27T16:30Z","p":87360},{"t":"2026-01-27T19:00Z","p":89210},{"t":"2026-01-27T23:00Z","p":89390},{"t":"2026-01-28T02:00Z","p":89210},{"t":"2026-01-28T04:30Z","p":88820},{"t":"2026-01-28T06:00Z","p":89210},{"t":"2026-01-28T08:30Z","p":88860},{"t":"2026-01-28T09:30Z","p":89560},{"t":"2026-01-28T11:00Z","p":90000}
],"all":[
{"t":"2026-01-14T10:30Z","v":0.742},{"t":"2026-01-14T12:00Z","v":0.737},{"t":"2026-01-14T15:00Z","v":0.786},{"t":"2026-01-14T18:00Z","v":0.827},{"t":"2026-01-14T21:00Z","v":0.834},{"t":"2026-01-15T00:00Z","v":0.824},{"t":"2026-01-15T03:00Z","v":0.794},{"t":"2026-01-15T06:00Z","v":0.797},{"t":"2026-01-15T09:00Z","v":0.797},{"t":"2026-01-15T10:00Z","v":0.818},{"t":"2026-01-15T12:00Z","v":0.807},{"t":"2026-01-15T15:00Z","v":0.786},{"t":"2026-01-15T16:00Z","v":0.851},{"t":"2026-01-15T18:00Z","v":0.948},{"t":"2026-01-15T20:00Z","v":0.829},{"t":"2026-01-15T21:00Z","v":0.832},{"t":"2026-01-16T00:00Z","v":0.837},{"t":"2026-01-16T03:00Z","v":0.82},{"t":"2026-01-16T06:00Z","v":0.78},{"t":"2026-01-16T09:00Z","v":0.78},{"t":"2026-01-16T12:00Z","v":0.753},{"t":"2026-01-16T15:00Z","v":0.745},{"t":"2026-01-16T18:00Z","v":0.71},{"t":"2026-01-16T21:00Z","v":0.705},{"t":"2026-01-17T00:00Z","v":0.714},{"t":"2026-01-17T03:00Z","v":0.705},{"t":"2026-01-17T06:00Z","v":0.705},{"t":"2026-01-17T09:00Z","v":0.701},{"t":"2026-01-17T12:00Z","v":0.71},{"t":"2026-01-17T15:00Z","v":0.712},{"t":"2026-01-17T18:00Z","v":0.705},{"t":"2026-01-17T21:00Z","v":0.699},{"t":"2026-01-18T00:00Z","v":0.69},{"t":"2026-01-18T03:00Z","v":0.68},{"t":"2026-01-18T06:00Z","v":0.688},{"t":"2026-01-18T09:00Z","v":0.683},{"t":"2026-01-18T12:00Z","v":0.672},{"t":"2026-01-18T15:00Z","v":0.661},{"t":"2026-01-18T18:00Z","v":0.667},{"t":"2026-01-18T21:00Z","v":0.683},{"t":"2026-01-18T23:00Z","v":0.675},{"t":"2026-01-18T23:30Z","v":0.634},{"t":"2026-01-19T00:00Z","v":0.58},{"t":"2026-01-19T01:00Z","v":0.591},{"t":"2026-01-19T03:00Z","v":0.61},{"t":"2026-01-19T06:00Z","v":0.61},{"t":"2026-01-19T09:00Z","v":0.639},{"t":"2026-01-19T12:00Z","v":0.615},{"t":"2026-01-19T15:00Z","v":0.593},{"t":"2026-01-19T18:00Z","v":0.588},{"t":"2026-01-19T21:00Z","v":0.571},{"t":"2026-01-20T00:00Z","v":0.553},{"t":"2026-01-20T03:00Z","v":0.545},{"t":"2026-01-20T06:00Z","v":0.472},{"t":"2026-01-20T07:00Z","v":0.466},{"t":"2026-01-20T09:00Z","v":0.475},{"t":"2026-01-20T12:00Z","v":0.461},{"t":"2026-01-20T15:00Z","v":0.374},{"t":"2026-01-20T16:00Z","v":0.369},{"t":"2026-01-20T18:00Z","v":0.337},{"t":"2026-01-20T21:00Z","v":0.32},{"t":"2026-01-20T22:30Z","v":0.288},{"t":"2026-01-21T00:00Z","v":0.315},{"t":"2026-01-21T03:00Z","v":0.326},{"t":"2026-01-21T06:00Z","v":0.337},{"t":"2026-01-21T09:00Z","v":0.364},{"t":"2026-01-21T11:30Z","v":0.358},{"t":"2026-01-21T12:00Z","v":0.315},{"t":"2026-01-21T15:00Z","v":0.342},{"t":"2026-01-21T16:00Z","v":0.331},{"t":"2026-01-21T16:30Z","v":0.266},{"t":"2026-01-21T18:00Z","v":0.266},{"t":"2026-01-21T21:00Z","v":0.259},{"t":"2026-01-22T00:00Z","v":0.252},{"t":"2026-01-22T03:00Z","v":0.293},{"t":"2026-01-22T06:00Z","v":0.286},{"t":"2026-01-22T09:00Z","v":0.282},{"t":"2026-01-22T12:00Z","v":0.282},{"t":"2026-01-22T14:00Z","v":0.299},{"t":"2026-01-22T15:00Z","v":0.277},{"t":"2026-01-22T18:00Z","v":0.293},{"t":"2026-01-22T21:00Z","v":0.282},{"t":"2026-01-23T00:00Z","v":0.272},{"t":"2026-01-23T03:00Z","v":0.282},{"t":"2026-01-23T06:00Z","v":0.277},{"t":"2026-01-23T09:00Z","v":0.266},{"t":"2026-01-23T12:00Z","v":0.261},{"t":"2026-01-23T15:00Z","v":0.261},{"t":"2026-01-23T18:00Z","v":0.272},{"t":"2026-01-23T21:00Z","v":0.261},{"t":"2026-01-24T00:00Z","v":0.261},{"t":"2026-01-24T03:00Z","v":0.258},{"t":"2026-01-24T06:00Z","v":0.255},{"t":"2026-01-24T09:00Z","v":0.239},{"t":"2026-01-24T12:00Z","v":0.232},{"t":"2026-01-24T15:00Z","v":0.218},{"t":"2026-01-24T18:00Z","v":0.21},{"t":"2026-01-24T21:00Z","v":0.209},{"t":"2026-01-25T00:00Z","v":0.203},{"t":"2026-01-25T03:00Z","v":0.19},{"t":"2026-01-25T06:00Z","v":0.147},{"t":"2026-01-25T09:00Z","v":0.12},{"t":"2026-01-25T12:00Z","v":0.147},{"t":"2026-01-25T15:00Z","v":0.16},{"t":"2026-01-25T16:30Z","v":0.147},{"t":"2026-01-25T18:00Z","v":0.082},{"t":"2026-01-25T19:30Z","v":0.05},{"t":"2026-01-25T21:00Z","v":0.044},{"t":"2026-01-25T23:00Z","v":0.017},{"t":"2026-01-26T01:30Z","v":0.012},{"t":"2026-01-26T03:00Z","v":0.104},{"t":"2026-01-26T06:00Z","v":0.174},{"t":"2026-01-26T09:00Z","v":0.163},{"t":"2026-01-26T12:00Z","v":0.158},{"t":"2026-01-26T15:00Z","v":0.153},{"t":"2026-01-26T18:00Z","v":0.136},{"t":"2026-01-26T21:00Z","v":0.131},{"t":"2026-01-27T00:00Z","v":0.131},{"t":"2026-01-27T03:00Z","v":0.136},{"t":"2026-01-27T04:30Z","v":0.174},{"t":"2026-01-27T06:00Z","v":0.163},{"t":"2026-01-27T09:00Z","v":0.147},{"t":"2026-01-27T12:00Z","v":0.131},{"t":"2026-01-27T15:00Z","v":0.142},{"t":"2026-01-27T18:00Z","v":0.147},{"t":"2026-01-27T21:00Z","v":0.174},{"t":"2026-01-28T00:00Z","v":0.182},{"t":"2026-01-28T03:00Z","v":0.169},{"t":"2026-01-28T06:00Z","v":0.147},{"t":"2026-01-28T09:00Z","v":0.126},{"t":"2026-01-28T12:00Z","v":0.142}
],"s100":[
{"t":"2026-01-14T10:30Z","v":0.905},{"t":"2026-01-14T12:00Z","v":0.892},{"t":"2026-01-14T13:30Z","v":0.899},{"t":"2026-01-14T15:00Z","v":0.948},{"t":"2026-01-14T16:30Z","v":0.997},{"t":"2026-01-14T18:00Z","v":0.975},{"t":"2026-01-14T21:00Z","v":0.997},{"t":"2026-01-15T00:00Z","v":0.964},{"t":"2026-01-15T03:00Z","v":0.916},{"t":"2026-01-15T06:00Z","v":0.905},{"t":"2026-01-15T08:00Z","v":0.916},{"t":"2026-01-15T10:00Z","v":0.943},{"t":"2026-01-15T12:00Z","v":0.953},{"t":"2026-01-15T14:30Z","v":0.981},{"t":"2026-01-15T16:30Z","v":0.894},{"t":"2026-01-15T18:00Z","v":0.818},{"t":"2026-01-15T18:30Z","v":0.753},{"t":"2026-01-15T20:00Z","v":0.748},{"t":"2026-01-15T21:00Z","v":0.759},{"t":"2026-01-16T00:00Z","v":0.78},{"t":"2026-01-16T03:00Z","v":0.797},{"t":"2026-01-16T05:00Z","v":0.797},{"t":"2026-01-16T06:00Z","v":0.851},{"t":"2026-01-16T09:00Z","v":0.853},{"t":"2026-01-16T12:00Z","v":0.84},{"t":"2026-01-16T15:00Z","v":0.813},{"t":"2026-01-16T16:00Z","v":0.759},{"t":"2026-01-16T18:00Z","v":0.759},{"t":"2026-01-16T20:30Z","v":0.807},{"t":"2026-01-17T00:00Z","v":0.807},{"t":"2026-01-17T03:00Z","v":0.791},{"t":"2026-01-17T06:00Z","v":0.789},{"t":"2026-01-17T09:00Z","v":0.789},{"t":"2026-01-17T12:00Z","v":0.786},{"t":"2026-01-17T15:00Z","v":0.753},{"t":"2026-01-17T16:00Z","v":0.688},{"t":"2026-01-17T18:00Z","v":0.678},{"t":"2026-01-17T21:00Z","v":0.672},{"t":"2026-01-18T00:00Z","v":0.669},{"t":"2026-01-18T03:00Z","v":0.661},{"t":"2026-01-18T06:00Z","v":0.656},{"t":"2026-01-18T09:00Z","v":0.647},{"t":"2026-01-18T12:00Z","v":0.64},{"t":"2026-01-18T15:00Z","v":0.607},{"t":"2026-01-18T18:00Z","v":0.585},{"t":"2026-01-18T21:00Z","v":0.553},{"t":"2026-01-18T23:00Z","v":0.504},{"t":"2026-01-19T00:00Z","v":0.374},{"t":"2026-01-19T01:00Z","v":0.401},{"t":"2026-01-19T03:00Z","v":0.423},{"t":"2026-01-19T06:00Z","v":0.434},{"t":"2026-01-19T07:30Z","v":0.439},{"t":"2026-01-19T09:00Z","v":0.387},{"t":"2026-01-19T12:00Z","v":0.374},{"t":"2026-01-19T15:00Z","v":0.374},{"t":"2026-01-19T18:00Z","v":0.364},{"t":"2026-01-19T21:00Z","v":0.333},{"t":"2026-01-20T00:00Z","v":0.32},{"t":"2026-01-20T03:00Z","v":0.315},{"t":"2026-01-20T06:00Z","v":0.293},{"t":"2026-01-20T07:00Z","v":0.255},{"t":"2026-01-20T09:00Z","v":0.212},{"t":"2026-01-20T12:00Z","v":0.218},{"t":"2026-01-20T15:00Z","v":0.136},{"t":"2026-01-20T16:00Z","v":0.115},{"t":"2026-01-20T18:00Z","v":0.039},{"t":"2026-01-20T19:00Z","v":0.034},{"t":"2026-01-20T21:00Z","v":0.063},{"t":"2026-01-20T22:00Z","v":0.061},{"t":"2026-01-20T23:00Z","v":0},{"t":"2026-01-21T00:00Z","v":0.017},{"t":"2026-01-21T03:00Z","v":0.012},{"t":"2026-01-21T06:00Z","v":0.039},{"t":"2026-01-21T08:00Z","v":0.034},{"t":"2026-01-21T09:00Z","v":0.004},{"t":"2026-01-21T10:30Z","v":0.147},{"t":"2026-01-21T12:00Z","v":0.163},{"t":"2026-01-21T14:00Z","v":0.196},{"t":"2026-01-21T15:00Z","v":0.266},{"t":"2026-01-21T16:00Z","v":0.272},{"t":"2026-01-21T16:30Z","v":0.201},{"t":"2026-01-21T18:00Z","v":0.212},{"t":"2026-01-21T21:00Z","v":0.207},{"t":"2026-01-21T23:30Z","v":0.185},{"t":"2026-01-22T03:00Z","v":0.245},{"t":"2026-01-22T06:00Z","v":0.261},{"t":"2026-01-22T09:00Z","v":0.25},{"t":"2026-01-22T10:00Z","v":0.277},{"t":"2026-01-22T12:00Z","v":0.429},{"t":"2026-01-22T13:30Z","v":0.429},{"t":"2026-01-22T15:00Z","v":0.385},{"t":"2026-01-22T16:30Z","v":0.439},{"t":"2026-01-22T18:00Z","v":0.45},{"t":"2026-01-22T19:30Z","v":0.477},{"t":"2026-01-22T21:00Z","v":0.461},{"t":"2026-01-23T00:00Z","v":0.469},{"t":"2026-01-23T03:00Z","v":0.477},{"t":"2026-01-23T05:00Z","v":0.494},{"t":"2026-01-23T06:00Z","v":0.342},{"t":"2026-01-23T07:00Z","v":0.234},{"t":"2026-01-23T08:00Z","v":0.147},{"t":"2026-01-23T08:30Z","v":0.115},{"t":"2026-01-23T09:30Z","v":0.19},{"t":"2026-01-23T12:00Z","v":0.218},{"t":"2026-01-23T15:00Z","v":0.185},{"t":"2026-01-23T18:00Z","v":0.218},{"t":"2026-01-23T21:00Z","v":0.223},{"t":"2026-01-23T23:00Z","v":0.255},{"t":"2026-01-24T00:00Z","v":0.261},{"t":"2026-01-24T03:00Z","v":0.258},{"t":"2026-01-24T04:30Z","v":0.288},{"t":"2026-01-24T06:00Z","v":0.309},{"t":"2026-01-24T09:00Z","v":0.329},{"t":"2026-01-24T12:00Z","v":0.333},{"t":"2026-01-24T14:30Z","v":0.331},{"t":"2026-01-24T15:00Z","v":0.277},{"t":"2026-01-24T18:00Z","v":0.275},{"t":"2026-01-24T21:00Z","v":0.275},{"t":"2026-01-25T00:00Z","v":0.277},{"t":"2026-01-25T03:00Z","v":0.282},{"t":"2026-01-25T06:00Z","v":0.32},{"t":"2026-01-25T09:00Z","v":0.337},{"t":"2026-01-25T12:00Z","v":0.38},{"t":"2026-01-25T15:00Z","v":0.383},{"t":"2026-01-25T16:00Z","v":0.429},{"t":"2026-01-25T18:00Z","v":0.531},{"t":"2026-01-25T19:30Z","v":0.504},{"t":"2026-01-25T21:00Z","v":0.548},{"t":"2026-01-25T22:30Z","v":0.569},{"t":"2026-01-26T00:00Z","v":0.634},{"t":"2026-01-26T02:30Z","v":0.701},{"t":"2026-01-26T04:00Z","v":0.623},{"t":"2026-01-26T06:30Z","v":0.598},{"t":"2026-01-26T08:30Z","v":0.634},{"t":"2026-01-26T12:00Z","v":0.629},{"t":"2026-01-26T15:00Z","v":0.596},{"t":"2026-01-26T16:00Z","v":0.58},{"t":"2026-01-26T18:00Z","v":0.596},{"t":"2026-01-26T19:00Z","v":0.618},{"t":"2026-01-26T21:00Z","v":0.61},{"t":"2026-01-27T00:00Z","v":0.65},{"t":"2026-01-27T03:00Z","v":0.678},{"t":"2026-01-27T06:00Z","v":0.683},{"t":"2026-01-27T08:30Z","v":0.71},{"t":"2026-01-27T12:00Z","v":0.688},{"t":"2026-01-27T14:00Z","v":0.678},{"t":"2026-01-27T16:00Z","v":0.64},{"t":"2026-01-27T16:30Z","v":0.661},{"t":"2026-01-27T18:00Z","v":0.626},{"t":"2026-01-27T21:00Z","v":0.661},{"t":"2026-01-28T00:00Z","v":0.645},{"t":"2026-01-28T03:00Z","v":0.656},{"t":"2026-01-28T06:00Z","v":0.661},{"t":"2026-01-28T07:00Z","v":0.669},{"t":"2026-01-28T08:30Z","v":0.596},{"t":"2026-01-28T10:00Z","v":0.618},{"t":"2026-01-28T11:00Z","v":0.537},{"t":"2026-01-28T12:00Z","v":0.504}
],"s1k":[
{"t":"2026-01-14T10:30Z","v":0.905},{"t":"2026-01-14T12:00Z","v":0.899},{"t":"2026-01-14T15:00Z","v":0.948},{"t":"2026-01-14T16:30Z","v":0.957},{"t":"2026-01-14T18:00Z","v":0.957},{"t":"2026-01-14T21:00Z","v":0.964},{"t":"2026-01-15T00:00Z","v":0.964},{"t":"2026-01-15T03:00Z","v":0.961},{"t":"2026-01-15T06:00Z","v":0.953},{"t":"2026-01-15T09:00Z","v":0.964},{"t":"2026-01-15T12:00Z","v":0.986},{"t":"2026-01-15T15:00Z","v":0.992},{"t":"2026-01-15T17:00Z","v":0.981},{"t":"2026-01-15T18:30Z","v":0.959},{"t":"2026-01-15T21:00Z","v":0.951},{"t":"2026-01-16T00:00Z","v":0.953},{"t":"2026-01-16T03:00Z","v":0.943},{"t":"2026-01-16T05:00Z","v":0.899},{"t":"2026-01-16T06:00Z","v":0.91},{"t":"2026-01-16T09:00Z","v":0.899},{"t":"2026-01-16T12:00Z","v":0.894},{"t":"2026-01-16T15:00Z","v":0.878},{"t":"2026-01-16T18:00Z","v":0.867},{"t":"2026-01-16T21:00Z","v":0.878},{"t":"2026-01-17T00:00Z","v":0.881},{"t":"2026-01-17T03:00Z","v":0.872},{"t":"2026-01-17T06:00Z","v":0.867},{"t":"2026-01-17T09:00Z","v":0.856},{"t":"2026-01-17T12:00Z","v":0.859},{"t":"2026-01-17T15:00Z","v":0.856},{"t":"2026-01-17T16:00Z","v":0.845},{"t":"2026-01-17T18:00Z","v":0.842},{"t":"2026-01-17T21:00Z","v":0.834},{"t":"2026-01-18T00:00Z","v":0.829},{"t":"2026-01-18T03:00Z","v":0.82},{"t":"2026-01-18T06:00Z","v":0.82},{"t":"2026-01-18T09:00Z","v":0.824},{"t":"2026-01-18T12:00Z","v":0.82},{"t":"2026-01-18T15:00Z","v":0.802},{"t":"2026-01-18T18:00Z","v":0.793},{"t":"2026-01-18T21:00Z","v":0.782},{"t":"2026-01-18T23:00Z","v":0.759},{"t":"2026-01-19T00:00Z","v":0.683},{"t":"2026-01-19T01:00Z","v":0.688},{"t":"2026-01-19T03:30Z","v":0.699},{"t":"2026-01-19T06:00Z","v":0.683},{"t":"2026-01-19T09:00Z","v":0.661},{"t":"2026-01-19T12:00Z","v":0.643},{"t":"2026-01-19T15:00Z","v":0.623},{"t":"2026-01-19T18:00Z","v":0.615},{"t":"2026-01-19T21:00Z","v":0.604},{"t":"2026-01-20T00:00Z","v":0.591},{"t":"2026-01-20T03:00Z","v":0.585},{"t":"2026-01-20T06:00Z","v":0.567},{"t":"2026-01-20T09:00Z","v":0.545},{"t":"2026-01-20T12:00Z","v":0.542},{"t":"2026-01-20T14:30Z","v":0.535},{"t":"2026-01-20T15:00Z","v":0.491},{"t":"2026-01-20T16:00Z","v":0.488},{"t":"2026-01-20T18:00Z","v":0.466},{"t":"2026-01-20T21:00Z","v":0.477},{"t":"2026-01-21T00:00Z","v":0.461},{"t":"2026-01-21T03:00Z","v":0.461},{"t":"2026-01-21T06:00Z","v":0.456},{"t":"2026-01-21T09:00Z","v":0.442},{"t":"2026-01-21T11:30Z","v":0.418},{"t":"2026-01-21T12:00Z","v":0.412},{"t":"2026-01-21T14:00Z","v":0.423},{"t":"2026-01-21T15:30Z","v":0.407},{"t":"2026-01-21T16:30Z","v":0.342},{"t":"2026-01-21T18:00Z","v":0.337},{"t":"2026-01-21T21:00Z","v":0.34},{"t":"2026-01-22T00:00Z","v":0.34},{"t":"2026-01-22T03:00Z","v":0.345},{"t":"2026-01-22T06:00Z","v":0.34},{"t":"2026-01-22T09:00Z","v":0.326},{"t":"2026-01-22T12:00Z","v":0.326},{"t":"2026-01-22T15:00Z","v":0.329},{"t":"2026-01-22T18:00Z","v":0.342},{"t":"2026-01-22T21:00Z","v":0.331},{"t":"2026-01-23T00:00Z","v":0.324},{"t":"2026-01-23T03:00Z","v":0.333},{"t":"2026-01-23T06:00Z","v":0.326},{"t":"2026-01-23T09:00Z","v":0.315},{"t":"2026-01-23T12:00Z","v":0.309},{"t":"2026-01-23T15:00Z","v":0.304},{"t":"2026-01-23T18:00Z","v":0.299},{"t":"2026-01-23T20:00Z","v":0.286},{"t":"2026-01-24T00:00Z","v":0.291},{"t":"2026-01-24T03:00Z","v":0.282},{"t":"2026-01-24T06:00Z","v":0.272},{"t":"2026-01-24T09:00Z","v":0.275},{"t":"2026-01-24T12:00Z","v":0.273},{"t":"2026-01-24T15:00Z","v":0.269},{"t":"2026-01-24T18:00Z","v":0.261},{"t":"2026-01-24T21:00Z","v":0.258},{"t":"2026-01-25T00:00Z","v":0.25},{"t":"2026-01-25T03:00Z","v":0.243},{"t":"2026-01-25T06:00Z","v":0.232},{"t":"2026-01-25T09:00Z","v":0.247},{"t":"2026-01-25T12:00Z","v":0.255},{"t":"2026-01-25T15:00Z","v":0.255},{"t":"2026-01-25T18:00Z","v":0.252},{"t":"2026-01-25T19:30Z","v":0.218},{"t":"2026-01-25T21:00Z","v":0.21},{"t":"2026-01-26T00:00Z","v":0.205},{"t":"2026-01-26T03:00Z","v":0.185},{"t":"2026-01-26T06:00Z","v":0.174},{"t":"2026-01-26T09:00Z","v":0.174},{"t":"2026-01-26T12:00Z","v":0.163},{"t":"2026-01-26T15:00Z","v":0.153},{"t":"2026-01-26T18:00Z","v":0.136},{"t":"2026-01-26T21:00Z","v":0.136},{"t":"2026-01-27T00:00Z","v":0.145},{"t":"2026-01-27T03:00Z","v":0.145},{"t":"2026-01-27T06:00Z","v":0.126},{"t":"2026-01-27T09:00Z","v":0.093},{"t":"2026-01-27T12:00Z","v":0.069},{"t":"2026-01-27T15:00Z","v":0.061},{"t":"2026-01-27T18:00Z","v":0.044},{"t":"2026-01-27T21:00Z","v":0.055},{"t":"2026-01-28T00:00Z","v":0.055},{"t":"2026-01-28T03:00Z","v":0.048},{"t":"2026-01-28T06:00Z","v":0.028},{"t":"2026-01-28T09:00Z","v":0},{"t":"2026-01-28T12:00Z","v":0}
],"s10k":[
{"t":"2026-01-14T10:30Z","v":0.823},{"t":"2026-01-14T11:00Z","v":0.845},{"t":"2026-01-14T13:30Z","v":0.845},{"t":"2026-01-14T15:00Z","v":0.916},{"t":"2026-01-14T16:30Z","v":0.959},{"t":"2026-01-14T18:00Z","v":0.975},{"t":"2026-01-14T21:00Z","v":0.993},{"t":"2026-01-15T00:00Z","v":0.986},{"t":"2026-01-15T03:00Z","v":0.948},{"t":"2026-01-15T04:00Z","v":0.932},{"t":"2026-01-15T06:00Z","v":0.937},{"t":"2026-01-15T09:00Z","v":0.932},{"t":"2026-01-15T12:00Z","v":0.921},{"t":"2026-01-15T15:00Z","v":0.916},{"t":"2026-01-15T16:30Z","v":0.948},{"t":"2026-01-15T17:30Z","v":0.959},{"t":"2026-01-15T18:00Z","v":0.851},{"t":"2026-01-15T18:30Z","v":0.742},{"t":"2026-01-15T19:00Z","v":0.645},{"t":"2026-01-15T21:00Z","v":0.634},{"t":"2026-01-16T00:00Z","v":0.632},{"t":"2026-01-16T03:00Z","v":0.629},{"t":"2026-01-16T05:00Z","v":0.602},{"t":"2026-01-16T06:00Z","v":0.553},{"t":"2026-01-16T09:00Z","v":0.553},{"t":"2026-01-16T12:00Z","v":0.542},{"t":"2026-01-16T15:00Z","v":0.537},{"t":"2026-01-16T16:00Z","v":0.51},{"t":"2026-01-16T18:00Z","v":0.51},{"t":"2026-01-16T21:00Z","v":0.496},{"t":"2026-01-17T00:00Z","v":0.506},{"t":"2026-01-17T03:00Z","v":0.499},{"t":"2026-01-17T06:00Z","v":0.499},{"t":"2026-01-17T09:00Z","v":0.488},{"t":"2026-01-17T12:00Z","v":0.502},{"t":"2026-01-17T15:00Z","v":0.502},{"t":"2026-01-17T16:00Z","v":0.485},{"t":"2026-01-17T18:00Z","v":0.49},{"t":"2026-01-17T21:00Z","v":0.485},{"t":"2026-01-18T00:00Z","v":0.479},{"t":"2026-01-18T03:00Z","v":0.472},{"t":"2026-01-18T06:00Z","v":0.477},{"t":"2026-01-18T09:00Z","v":0.48},{"t":"2026-01-18T12:00Z","v":0.475},{"t":"2026-01-18T15:00Z","v":0.456},{"t":"2026-01-18T18:00Z","v":0.461},{"t":"2026-01-18T21:00Z","v":0.472},{"t":"2026-01-18T23:00Z","v":0.472},{"t":"2026-01-19T00:00Z","v":0.396},{"t":"2026-01-19T01:00Z","v":0.396},{"t":"2026-01-19T03:00Z","v":0.42},{"t":"2026-01-19T06:00Z","v":0.412},{"t":"2026-01-19T07:30Z","v":0.407},{"t":"2026-01-19T09:00Z","v":0.461},{"t":"2026-01-19T12:00Z","v":0.445},{"t":"2026-01-19T15:00Z","v":0.423},{"t":"2026-01-19T18:00Z","v":0.434},{"t":"2026-01-19T21:00Z","v":0.418},{"t":"2026-01-20T00:00Z","v":0.387},{"t":"2026-01-20T03:00Z","v":0.38},{"t":"2026-01-20T06:00Z","v":0.326},{"t":"2026-01-20T07:00Z","v":0.288},{"t":"2026-01-20T09:00Z","v":0.304},{"t":"2026-01-20T12:00Z","v":0.299},{"t":"2026-01-20T14:30Z","v":0.293},{"t":"2026-01-20T15:00Z","v":0.218},{"t":"2026-01-20T16:30Z","v":0.239},{"t":"2026-01-20T18:00Z","v":0.218},{"t":"2026-01-20T21:00Z","v":0.174},{"t":"2026-01-20T22:30Z","v":0.142},{"t":"2026-01-21T00:00Z","v":0.153},{"t":"2026-01-21T03:00Z","v":0.196},{"t":"2026-01-21T06:00Z","v":0.207},{"t":"2026-01-21T08:30Z","v":0.239},{"t":"2026-01-21T11:30Z","v":0.277},{"t":"2026-01-21T12:00Z","v":0.266},{"t":"2026-01-21T14:00Z","v":0.245},{"t":"2026-01-21T15:00Z","v":0.272},{"t":"2026-01-21T16:00Z","v":0.272},{"t":"2026-01-21T17:00Z","v":0.239},{"t":"2026-01-21T18:00Z","v":0.234},{"t":"2026-01-21T21:00Z","v":0.223},{"t":"2026-01-21T23:30Z","v":0.207},{"t":"2026-01-22T03:00Z","v":0.242},{"t":"2026-01-22T06:00Z","v":0.245},{"t":"2026-01-22T09:00Z","v":0.245},{"t":"2026-01-22T10:00Z","v":0.234},{"t":"2026-01-22T12:00Z","v":0.234},{"t":"2026-01-22T14:00Z","v":0.266},{"t":"2026-01-22T15:00Z","v":0.228},{"t":"2026-01-22T18:00Z","v":0.245},{"t":"2026-01-22T21:00Z","v":0.223},{"t":"2026-01-23T00:00Z","v":0.228},{"t":"2026-01-23T03:00Z","v":0.234},{"t":"2026-01-23T06:00Z","v":0.212},{"t":"2026-01-23T07:30Z","v":0.207},{"t":"2026-01-23T09:00Z","v":0.228},{"t":"2026-01-23T12:00Z","v":0.234},{"t":"2026-01-23T15:00Z","v":0.223},{"t":"2026-01-23T18:00Z","v":0.25},{"t":"2026-01-23T21:00Z","v":0.228},{"t":"2026-01-24T00:00Z","v":0.218},{"t":"2026-01-24T03:00Z","v":0.223},{"t":"2026-01-24T06:00Z","v":0.223},{"t":"2026-01-24T09:00Z","v":0.207},{"t":"2026-01-24T12:00Z","v":0.196},{"t":"2026-01-24T14:00Z","v":0.19},{"t":"2026-01-24T15:00Z","v":0.201},{"t":"2026-01-24T18:00Z","v":0.196},{"t":"2026-01-24T21:00Z","v":0.196},{"t":"2026-01-25T00:00Z","v":0.187},{"t":"2026-01-25T03:00Z","v":0.18},{"t":"2026-01-25T06:00Z","v":0.147},{"t":"2026-01-25T09:00Z","v":0.12},{"t":"2026-01-25T12:00Z","v":0.147},{"t":"2026-01-25T15:00Z","v":0.158},{"t":"2026-01-25T17:30Z","v":0.131},{"t":"2026-01-25T19:30Z","v":0.088},{"t":"2026-01-25T21:00Z","v":0.093},{"t":"2026-01-25T22:00Z","v":0.05},{"t":"2026-01-26T00:00Z","v":0.006},{"t":"2026-01-26T01:30Z","v":0.004},{"t":"2026-01-26T03:00Z","v":0.147},{"t":"2026-01-26T04:30Z","v":0.299},{"t":"2026-01-26T06:30Z","v":0.394},{"t":"2026-01-26T08:00Z","v":0.337},{"t":"2026-01-26T12:00Z","v":0.329},{"t":"2026-01-26T13:30Z","v":0.32},{"t":"2026-01-26T14:00Z","v":0.337},{"t":"2026-01-26T15:00Z","v":0.337},{"t":"2026-01-26T16:30Z","v":0.304},{"t":"2026-01-26T18:00Z","v":0.299},{"t":"2026-01-26T21:00Z","v":0.304},{"t":"2026-01-26T23:30Z","v":0.299},{"t":"2026-01-27T01:00Z","v":0.288},{"t":"2026-01-27T03:00Z","v":0.32},{"t":"2026-01-27T04:00Z","v":0.38},{"t":"2026-01-27T07:00Z","v":0.364},{"t":"2026-01-27T10:30Z","v":0.333},{"t":"2026-01-27T14:00Z","v":0.358},{"t":"2026-01-27T18:00Z","v":0.342},{"t":"2026-01-27T18:30Z","v":0.374},{"t":"2026-01-27T21:00Z","v":0.38},{"t":"2026-01-27T22:00Z","v":0.418},{"t":"2026-01-28T00:00Z","v":0.423},{"t":"2026-01-28T03:00Z","v":0.405},{"t":"2026-01-28T06:00Z","v":0.38},{"t":"2026-01-28T08:00Z","v":0.353},{"t":"2026-01-28T10:00Z","v":0.364},{"t":"2026-01-28T12:00Z","v":0.374}
],"s100k":[
{"t":"2026-01-14T10:30Z","v":0.364},{"t":"2026-01-14T12:00Z","v":0.358},{"t":"2026-01-14T13:30Z","v":0.358},{"t":"2026-01-14T15:00Z","v":0.412},{"t":"2026-01-14T16:30Z","v":0.418},{"t":"2026-01-14T18:00Z","v":0.391},{"t":"2026-01-14T21:00Z","v":0.396},{"t":"2026-01-15T00:00Z","v":0.364},{"t":"2026-01-15T03:00Z","v":0.315},{"t":"2026-01-15T06:00Z","v":0.342},{"t":"2026-01-15T09:00Z","v":0.353},{"t":"2026-01-15T10:00Z","v":0.402},{"t":"2026-01-15T12:00Z","v":0.353},{"t":"2026-01-15T14:00Z","v":0.369},{"t":"2026-01-15T15:00Z","v":0.299},{"t":"2026-01-15T18:00Z","v":0.991},{"t":"2026-01-15T18:30Z","v":0.975},{"t":"2026-01-15T20:00Z","v":0.959},{"t":"2026-01-15T22:00Z","v":0.981},{"t":"2026-01-16T00:00Z","v":0.964},{"t":"2026-01-16T03:00Z","v":0.946},{"t":"2026-01-16T05:00Z","v":0.916},{"t":"2026-01-16T06:00Z","v":0.921},{"t":"2026-01-16T07:30Z","v":0.905},{"t":"2026-01-16T09:00Z","v":0.948},{"t":"2026-01-16T10:30Z","v":0.948},{"t":"2026-01-16T12:00Z","v":0.878},{"t":"2026-01-16T15:00Z","v":0.867},{"t":"2026-01-16T16:00Z","v":0.813},{"t":"2026-01-16T18:00Z","v":0.834},{"t":"2026-01-16T21:00Z","v":0.807},{"t":"2026-01-17T00:00Z","v":0.815},{"t":"2026-01-17T03:00Z","v":0.813},{"t":"2026-01-17T06:00Z","v":0.824},{"t":"2026-01-17T09:00Z","v":0.845},{"t":"2026-01-17T12:00Z","v":0.84},{"t":"2026-01-17T15:00Z","v":0.867},{"t":"2026-01-17T17:00Z","v":0.881},{"t":"2026-01-17T21:00Z","v":0.881},{"t":"2026-01-18T00:00Z","v":0.873},{"t":"2026-01-18T03:00Z","v":0.845},{"t":"2026-01-18T06:00Z","v":0.867},{"t":"2026-01-18T09:00Z","v":0.84},{"t":"2026-01-18T12:00Z","v":0.829},{"t":"2026-01-18T14:30Z","v":0.807},{"t":"2026-01-18T15:00Z","v":0.818},{"t":"2026-01-18T18:00Z","v":0.856},{"t":"2026-01-18T19:00Z","v":0.91},{"t":"2026-01-18T21:00Z","v":0.921},{"t":"2026-01-18T23:00Z","v":0.921},{"t":"2026-01-19T00:00Z","v":0.829},{"t":"2026-01-19T01:00Z","v":0.84},{"t":"2026-01-19T03:00Z","v":0.894},{"t":"2026-01-19T06:00Z","v":0.91},{"t":"2026-01-19T09:00Z","v":0.964},{"t":"2026-01-19T12:00Z","v":0.953},{"t":"2026-01-19T12:30Z","v":0.91},{"t":"2026-01-19T15:00Z","v":0.916},{"t":"2026-01-19T18:00Z","v":0.905},{"t":"2026-01-19T21:00Z","v":0.894},{"t":"2026-01-20T00:00Z","v":0.875},{"t":"2026-01-20T03:00Z","v":0.878},{"t":"2026-01-20T05:00Z","v":0.878},{"t":"2026-01-20T06:00Z","v":0.851},{"t":"2026-01-20T07:00Z","v":0.775},{"t":"2026-01-20T08:00Z","v":0.818},{"t":"2026-01-20T09:00Z","v":0.824},{"t":"2026-01-20T12:00Z","v":0.818},{"t":"2026-01-20T14:30Z","v":0.797},{"t":"2026-01-20T15:00Z","v":0.661},{"t":"2026-01-20T16:00Z","v":0.65},{"t":"2026-01-20T18:00Z","v":0.64},{"t":"2026-01-20T21:00Z","v":0.607},{"t":"2026-01-20T22:30Z","v":0.575},{"t":"2026-01-21T00:00Z","v":0.564},{"t":"2026-01-21T02:00Z","v":0.656},{"t":"2026-01-21T03:00Z","v":0.64},{"t":"2026-01-21T06:00Z","v":0.661},{"t":"2026-01-21T08:00Z","v":0.623},{"t":"2026-01-21T09:00Z","v":0.65},{"t":"2026-01-21T11:30Z","v":0.64},{"t":"2026-01-21T12:30Z","v":0.548},{"t":"2026-01-21T15:00Z","v":0.575},{"t":"2026-01-21T16:30Z","v":0.575},{"t":"2026-01-21T17:00Z","v":0.483},{"t":"2026-01-21T18:00Z","v":0.472},{"t":"2026-01-21T19:30Z","v":0.483},{"t":"2026-01-21T21:00Z","v":0.472},{"t":"2026-01-22T00:00Z","v":0.456},{"t":"2026-01-22T03:00Z","v":0.531},{"t":"2026-01-22T06:00Z","v":0.528},{"t":"2026-01-22T09:00Z","v":0.515},{"t":"2026-01-22T12:00Z","v":0.515},{"t":"2026-01-22T14:00Z","v":0.526},{"t":"2026-01-22T16:00Z","v":0.472},{"t":"2026-01-22T18:00Z","v":0.504},{"t":"2026-01-22T21:00Z","v":0.52},{"t":"2026-01-23T00:00Z","v":0.507},{"t":"2026-01-23T03:00Z","v":0.499},{"t":"2026-01-23T05:00Z","v":0.515},{"t":"2026-01-23T06:00Z","v":0.504},{"t":"2026-01-23T08:00Z","v":0.526},{"t":"2026-01-23T09:30Z","v":0.51},{"t":"2026-01-23T12:00Z","v":0.494},{"t":"2026-01-23T15:00Z","v":0.526},{"t":"2026-01-23T18:00Z","v":0.542},{"t":"2026-01-23T19:30Z","v":0.531},{"t":"2026-01-23T21:00Z","v":0.52},{"t":"2026-01-24T00:00Z","v":0.531},{"t":"2026-01-24T03:00Z","v":0.537},{"t":"2026-01-24T04:30Z","v":0.51},{"t":"2026-01-24T06:00Z","v":0.515},{"t":"2026-01-24T07:30Z","v":0.502},{"t":"2026-01-24T09:00Z","v":0.494},{"t":"2026-01-24T12:00Z","v":0.466},{"t":"2026-01-24T14:00Z","v":0.45},{"t":"2026-01-24T16:30Z","v":0.421},{"t":"2026-01-24T18:00Z","v":0.423},{"t":"2026-01-24T21:00Z","v":0.423},{"t":"2026-01-25T00:00Z","v":0.429},{"t":"2026-01-25T03:00Z","v":0.412},{"t":"2026-01-25T04:00Z","v":0.374},{"t":"2026-01-25T06:00Z","v":0.32},{"t":"2026-01-25T07:30Z","v":0.234},{"t":"2026-01-25T09:00Z","v":0.223},{"t":"2026-01-25T11:00Z","v":0.25},{"t":"2026-01-25T14:00Z","v":0.272},{"t":"2026-01-25T15:30Z","v":0.245},{"t":"2026-01-25T17:30Z","v":0.147},{"t":"2026-01-25T19:30Z","v":0.039},{"t":"2026-01-25T21:00Z","v":0.034},{"t":"2026-01-25T23:00Z","v":0.001},{"t":"2026-01-26T01:00Z","v":0.05},{"t":"2026-01-26T02:30Z","v":0.034},{"t":"2026-01-26T04:00Z","v":0.115},{"t":"2026-01-26T06:00Z","v":0.099},{"t":"2026-01-26T08:00Z","v":0.136},{"t":"2026-01-26T10:00Z","v":0.147},{"t":"2026-01-26T13:00Z","v":0.136},{"t":"2026-01-26T14:30Z","v":0.109},{"t":"2026-01-26T16:00Z","v":0.142},{"t":"2026-01-26T18:00Z","v":0.136},{"t":"2026-01-26T21:00Z","v":0.126},{"t":"2026-01-27T01:00Z","v":0.104},{"t":"2026-01-27T03:00Z","v":0.131},{"t":"2026-01-27T06:00Z","v":0.109},{"t":"2026-01-27T09:00Z","v":0.131},{"t":"2026-01-27T11:30Z","v":0.115},{"t":"2026-01-27T13:30Z","v":0.153},{"t":"2026-01-27T15:00Z","v":0.147},{"t":"2026-01-27T16:30Z","v":0.201},{"t":"2026-01-27T18:00Z","v":0.18},{"t":"2026-01-27T19:30Z","v":0.19},{"t":"2026-01-27T21:00Z","v":0.223},{"t":"2026-01-28T00:00Z","v":0.212},{"t":"2026-01-28T03:00Z","v":0.212},{"t":"2026-01-28T06:00Z","v":0.207},{"t":"2026-01-28T07:00Z","v":0.223},{"t":"2026-01-28T09:00Z","v":0.212},{"t":"2026-01-28T11:00Z","v":0.212},{"t":"2026-01-28T12:00Z","v":0.247}
],"s1m":[
{"t":"2026-01-14T10:30Z","v":0.6},{"t":"2026-01-15T03:30Z","v":0.669},{"t":"2026-01-15T09:30Z","v":0.724},{"t":"2026-01-15T14:30Z","v":0.647},{"t":"2026-01-15T18:00Z","v":1},{"t":"2026-01-18T07:00Z","v":0.948},{"t":"2026-01-18T18:30Z","v":1},{"t":"2026-01-19T00:00Z","v":0.948},{"t":"2026-01-20T06:00Z","v":0.762},{"t":"2026-01-20T14:30Z","v":0.474},{"t":"2026-01-20T22:30Z","v":0.421},{"t":"2026-01-21T00:30Z","v":0.245},{"t":"2026-01-21T08:00Z","v":0.369},{"t":"2026-01-21T11:30Z","v":0.396},{"t":"2026-01-21T15:00Z","v":0.453},{"t":"2026-01-21T22:00Z","v":0.515},{"t":"2026-01-23T09:30Z","v":0.459},{"t":"2026-01-23T19:00Z","v":0.577},{"t":"2026-01-24T06:00Z","v":0.45},{"t":"2026-01-25T03:00Z","v":0.377},{"t":"2026-01-25T06:00Z","v":0.32},{"t":"2026-01-25T16:00Z","v":0.16},{"t":"2026-01-25T18:00Z","v":0.05},{"t":"2026-01-25T22:00Z","v":0.115},{"t":"2026-01-27T23:00Z","v":0.06},{"t":"2026-01-28T10:00Z","v":0},{"t":"2026-01-28T12:00Z","v":0}
]},"vconcat":[{"width":1029,"height":318,"title":{"text":"BTC_USDT@2W","font":"DejaVu Serif","fontWeight":"bold","fontSize":14,"color":"#111","anchor":"start","frame":"group","offset":5,"dx":-3},"view":{"fill":"black","stroke":"#555"},"layer":[{"data":{"name":"heat","format":{"parse":{"a":"date","b":"date"}}},"mark":{"type":"rect","stroke":null},"encoding":{"x":{"field":"a","type":"temporal","scale":{"type":"utc","domain":[1768386600000,1769601600000]},"axis":null},"x2":{"field":"b"},"y":{"field":"y","type":"quantitative","title":"Price (USDT)","scale":{"domain":[83680,100530],"nice":false,"zero":false},"axis":{"orient":"right","grid":false,"labelOverlap":false,"tickCount":100,"values":[84000,84400,84800,85200,85600,86000,86400,86800,87200,87600,88000,88400,88800,89200,89600,90000,90400,90800,91200,91600,92000,92400,92800,93200,93600,94000,94400,94800,95200,95600,96000,96400,96800,97200,97600,98000,98400,98800,99200,99600,100000,100400],"tickSize":{"condition":{"test":"datum.value%2000==0","value":8},"value":4},"labelFontSize":{"condition":{"test":"datum.value%2000==0","value":10},"value":1},"labelExpr":"datum.value%2000==0?format(datum.value/1000,'.2f')+' k':''","labelPadding":14,"titlePadding":5}},"y2":{"field":"y2"},"color":{"field":"v","type":"quantitative","scale":{"domain":[9.85,15,20,25,30,35,36.5,38,39],"range":["#000000","#2a0000","#8a0000","#e81a00","#ff8800","#ffc800","#fff020","#ffffc0","#ffffff"],"interpolate":"rgb"},"legend":{"orient":"none","legendX":-100,"legendY":14,"title":"Vol. (USDT)","titleFont":"DejaVu Serif","titleFontStyle":"italic","titleFontWeight":"normal","titleFontSize":11.5,"titleColor":"#444","titlePadding":2,"labelFont":"DejaVu Serif","labelFontSize":10,"labelColor":"#666","labelOffset":-5,"gradientLength":282,"gradientThickness":22,"gradientStrokeColor":"#222","gradientStrokeWidth":1,"values":[15,20,25,30,35],"labelExpr":"format(datum.value,'.3f')+' M'"}}}},{"data":{"name":"price","format":{"parse":{"t":"date"}}},"mark":{"type":"line","color":"#1f77b4","strokeWidth":2},"encoding":{"x":{"field":"t","type":"temporal"},"y":{"field":"p","type":"quantitative"}}}]},{"width":1029,"height":308,"view":{"stroke":"#eeeeee"},"encoding":{"x":{"field":"t","type":"temporal","title":"Date (UTC)","scale":{"type":"utc","domain":[1768386600000,1769601600000]},"axis":{"values":[1768521600000,1768780800000,1769040000000,1769299200000,1769558400000],"labelExpr":"utcFormat(datum.value,'%-m/%-d')","gridColor":"#e6e6e6","tickSize":7,"labelPadding":3,"titlePadding":4}},"y":{"field":"v","type":"quantitative","title":"Norm. CVD (arb. u.)","scale":{"domain":[0,1],"nice":false},"axis":{"tickCount":100,"values":[0,0.04,0.08,0.12,0.16,0.2,0.24,0.28,0.32,0.36,0.4,0.44,0.48,0.52,0.56,0.6,0.64,0.68,0.72,0.76,0.8,0.84,0.88,0.92,0.96,1],"tickSize":{"condition":{"test":"round(datum.value*100)%20==0","value":8},"value":4},"gridColor":"#e6e6e6","gridOpacity":{"condition":{"test":"round(datum.value*100)%20==0","value":1},"value":0},"labelPadding":5,"titlePadding":16,"labelExpr":"round(datum.value*100)%20!=0?'':datum.value==0?'0.00':datum.value==1?'1.00':format(datum.value*1000,'.2f')+' m'"}}},"layer":[{"data":{"values":[{"t":"2026-01-20T22:42Z","v":0.477},{"t":"2026-01-21T03:00Z","v":0.581},{"t":"2026-01-21T10:48Z","v":0.549},{"t":"2026-01-21T16:06Z","v":0.601},{"t":"2026-01-21T22:18Z","v":0.516},{"t":"2026-01-22T00:00Z","v":0.48}],"format":{"parse":{"t":"date"}}},"mark":{"type":"area","color":"#dff1f1"},"encoding":{"y2":{"datum":0.48}}},{"data":{"values":[{"i":0,"t":"2026-01-21T07:12Z","v":0.799},{"i":1,"t":"2026-01-21T07:12Z","v":0.705},{"i":2,"t":"2026-01-20T20:24Z","v":0.526},{"i":3,"t":"2026-01-20T20:24Z","v":0.494},{"i":4,"t":"2026-01-20T23:00Z","v":0.477},{"i":5,"t":"2026-01-21T23:18Z","v":0.477},{"i":6,"t":"2026-01-22T01:36Z","v":0.516},{"i":7,"t":"2026-01-21T15:06Z","v":0.705},{"i":8,"t":"2026-01-21T15:06Z","v":0.799},{"i":9,"t":"2026-01-21T07:12Z","v":0.799}],"format":{"parse":{"t":"date"}}},"mark":{"type":"line","color":"#d0d0d0","strokeWidth":5},"encoding":{"order":{"field":"i","type":"quantitative"}}},{"data":{"values":[{"t":"2026-01-18T01:12Z","v":0.218},{"t":"2026-01-18T22:12Z","v":0.218}],"format":{"parse":{"t":"date"}}},"mark":{"type":"line","color":"#d0d0d0","strokeWidth":1.5}},{"data":{"values":[{"t":"2026-01-21T11:06Z","v":0.344,"label":"M\u200aA\u200aT\u200aE\u200aR\u200aI\u200aA\u200aL\u200a \u200aI\u200aN\u200aD\u200aI\u200aC\u200aA\u200aT\u200aO\u200aR\u200aS"}],"format":{"parse":{"t":"date"}}},"mark":{"type":"text","font":"Roboto","fontWeight":"bold","fontSize":39.5,"color":"#d0d0d0","align":"center","baseline":"middle"},"encoding":{"text":{"field":"label"}}},{"data":{"values":[{"t":"2026-01-21T11:48Z","v":0.214,"label":"T H E\u00a0\u00a0S C I E N C E\u00a0\u00a0O F\u00a0\u00a0T R A D I N G"}],"format":{"parse":{"t":"date"}}},"mark":{"type":"text","font":"Roboto","fontSize":22,"color":"#d8d8d8","align":"center","baseline":"middle"},"encoding":{"text":{"field":"label"}}},{"data":{"name":"all","format":{"parse":{"t":"date"}}},"mark":{"type":"line","strokeWidth":1.8},"encoding":{"color":{"datum":"all orders","type":"nominal","scale":{"domain":["all orders","$100 to $1k","$1k to $10k","$10k to $100k","$100k to $1M","$1M to $10M"],"range":["#1f77b4","#ff7f0e","#2ca02c","#d62728","#9467bd","#8c564b"]},"legend":{"orient":"none","legendX":1029,"legendY":170,"title":null,"strokeColor":"#eeeeee","padding":9,"labelFont":"DejaVu Serif","labelFontSize":11.5,"labelColor":"#444","symbolType":"stroke","symbolSize":280,"symbolStrokeWidth":2,"rowPadding":5.4}}}},{"data":{"name":"s100","format":{"parse":{"t":"date"}}},"mark":{"type":"line","strokeWidth":1.8},"encoding":{"color":{"datum":"$100 to $1k","type":"nominal"}}},{"data":{"name":"s1k","format":{"parse":{"t":"date"}}},"mark":{"type":"line","strokeWidth":1.8},"encoding":{"color":{"datum":"$1k to $10k","type":"nominal"}}},{"data":{"name":"s10k","format":{"parse":{"t":"date"}}},"mark":{"type":"line","strokeWidth":1.8},"encoding":{"color":{"datum":"$10k to $100k","type":"nominal"}}},{"data":{"name":"s100k","format":{"parse":{"t":"date"}}},"mark":{"type":"line","strokeWidth":1.8},"encoding":{"color":{"datum":"$100k to $1M","type":"nominal"}}},{"data":{"name":"s1m","format":{"parse":{"t":"date"}}},"mark":{"type":"line","strokeWidth":2,"interpolate":"step-after"},"encoding":{"color":{"datum":"$1M to $10M","type":"nominal"}}}]}]}
